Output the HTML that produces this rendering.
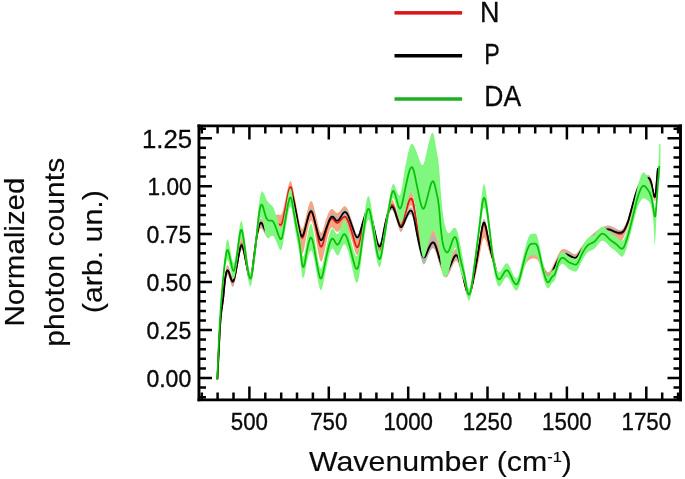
<!DOCTYPE html>
<html><head><meta charset="utf-8"><title>Spectra</title>
<style>html,body{margin:0;padding:0;background:#fff}svg{display:block}</style></head>
<body>
<svg width="685" height="479" viewBox="0 0 685 479">
<rect width="685" height="479" fill="#fff"/>
<g fill="none" stroke-linejoin="round" stroke-linecap="butt">
<path d="M217.5,375.8 L218.0,365.2 L218.5,354.5 L219.0,344.1 L219.5,334.1 L220.0,324.9 L220.5,317.4 L221.0,311.7 L221.5,307.2 L222.0,303.4 L222.5,299.8 L223.0,295.9 L223.5,291.1 L224.0,285.6 L224.5,280.1 L225.0,275.4 L225.5,271.8 L226.0,269.0 L226.5,266.8 L227.0,265.5 L227.5,264.9 L228.0,265.2 L228.5,265.9 L229.0,267.1 L229.5,268.6 L230.0,270.2 L230.5,271.8 L231.0,273.4 L231.5,274.7 L232.0,275.8 L232.5,276.3 L233.0,276.3 L233.5,275.6 L234.0,274.2 L234.5,272.4 L235.0,270.1 L235.5,267.6 L236.0,264.8 L236.5,261.9 L237.0,259.1 L237.5,256.2 L238.0,253.2 L238.5,250.1 L239.0,247.1 L239.5,244.4 L240.0,242.0 L240.5,240.0 L241.0,238.7 L241.5,238.0 L242.0,238.2 L242.5,239.2 L243.0,240.7 L243.5,242.8 L244.0,245.2 L244.5,247.8 L245.0,250.6 L245.5,253.4 L246.0,256.1 L246.5,259.0 L247.0,261.8 L247.5,264.6 L248.0,267.1 L248.5,269.3 L249.0,271.1 L249.5,272.5 L250.0,273.2 L250.5,273.3 L251.0,272.5 L251.5,270.6 L252.0,267.9 L252.5,264.5 L253.0,260.6 L253.5,256.5 L254.0,252.4 L254.5,248.5 L255.0,244.7 L255.5,240.8 L256.0,237.1 L256.5,233.6 L257.0,230.4 L257.5,227.8 L258.0,225.5 L258.5,223.5 L259.0,221.8 L259.5,220.4 L260.0,219.3 L260.5,218.7 L261.0,218.5 L261.5,218.6 L262.0,219.1 L262.5,219.7 L263.0,220.5 L263.5,221.3 L264.0,222.2 L264.5,223.0 L265.0,223.6 L265.5,224.0 L266.0,224.2 L266.5,224.2 L267.0,223.9 L267.5,223.4 L268.0,222.9 L268.5,222.2 L269.0,221.6 L269.5,220.9 L270.0,220.2 L270.5,219.6 L271.0,219.0 L271.5,218.5 L272.0,217.9 L272.5,217.4 L273.0,217.0 L273.5,216.6 L274.0,216.2 L274.5,215.9 L275.0,215.6 L275.5,215.3 L276.0,215.1 L276.5,214.9 L277.0,214.7 L277.5,214.6 L278.0,214.6 L278.5,214.6 L279.0,214.8 L279.5,214.9 L280.0,214.9 L280.5,214.9 L281.0,214.7 L281.5,214.2 L282.0,213.3 L282.5,211.8 L283.0,210.1 L283.5,208.1 L284.0,205.9 L284.5,203.6 L285.0,201.4 L285.5,199.1 L286.0,196.7 L286.5,194.3 L287.0,191.8 L287.5,189.4 L288.0,187.2 L288.5,185.2 L289.0,183.5 L289.5,182.2 L290.0,181.3 L290.5,181.0 L291.0,181.3 L291.5,182.4 L292.0,184.3 L292.5,186.6 L293.0,189.1 L293.5,191.7 L294.0,194.2 L294.5,196.7 L295.0,199.2 L295.5,201.8 L296.0,204.4 L296.5,207.0 L297.0,209.7 L297.5,212.4 L298.0,215.1 L298.5,217.6 L299.0,219.9 L299.5,222.1 L300.0,224.1 L300.5,226.0 L301.0,227.5 L301.5,228.5 L302.0,229.0 L302.5,228.7 L303.0,227.9 L303.5,226.5 L304.0,224.8 L304.5,222.8 L305.0,220.7 L305.5,218.5 L306.0,216.3 L306.5,214.3 L307.0,212.2 L307.5,210.1 L308.0,208.2 L308.5,206.3 L309.0,204.7 L309.5,203.3 L310.0,202.1 L310.5,201.4 L311.0,201.0 L311.5,201.0 L312.0,201.6 L312.5,202.5 L313.0,203.8 L313.5,205.4 L314.0,207.2 L314.5,209.2 L315.0,211.3 L315.5,213.4 L316.0,215.5 L316.5,217.6 L317.0,219.8 L317.5,222.1 L318.0,224.3 L318.5,226.4 L319.0,228.3 L319.5,230.0 L320.0,231.4 L320.5,232.3 L321.0,232.8 L321.5,232.8 L322.0,232.2 L322.5,231.2 L323.0,229.8 L323.5,228.2 L324.0,226.5 L324.5,224.6 L325.0,222.8 L325.5,221.0 L326.0,219.4 L326.5,218.0 L327.0,216.7 L327.5,215.3 L328.0,214.1 L328.5,213.0 L329.0,212.0 L329.5,211.1 L330.0,210.3 L330.5,209.7 L331.0,209.3 L331.5,209.0 L332.0,209.0 L332.5,209.1 L333.0,209.4 L333.5,209.8 L334.0,210.4 L334.5,210.9 L335.0,211.5 L335.5,212.0 L336.0,212.5 L336.5,212.8 L337.0,212.9 L337.5,212.8 L338.0,212.6 L338.5,212.3 L339.0,211.9 L339.5,211.4 L340.0,210.8 L340.5,210.2 L341.0,209.5 L341.5,208.9 L342.0,208.2 L342.5,207.7 L343.0,207.1 L343.5,206.7 L344.0,206.4 L344.5,206.2 L345.0,206.2 L345.5,206.4 L346.0,206.8 L346.5,207.4 L347.0,208.1 L347.5,208.9 L348.0,209.9 L348.5,211.0 L349.0,212.3 L349.5,213.6 L350.0,214.9 L350.5,216.4 L351.0,217.9 L351.5,219.4 L352.0,221.0 L352.5,222.6 L353.0,224.3 L353.5,226.1 L354.0,227.9 L354.5,229.6 L355.0,231.2 L355.5,232.6 L356.0,233.8 L356.5,234.7 L357.0,235.2 L357.5,235.3 L358.0,235.0 L358.5,234.2 L359.0,233.0 L359.5,231.5 L360.0,229.8 L360.5,227.9 L361.0,225.9 L361.5,223.8 L362.0,221.7 L362.5,219.8 L363.0,218.0 L363.5,216.2 L364.0,214.5 L364.5,212.8 L365.0,211.2 L365.5,209.7 L366.0,208.3 L366.5,207.1 L367.0,206.1 L367.5,205.4 L368.0,205.0 L368.5,205.0 L369.0,205.4 L369.5,206.3 L370.0,207.5 L370.5,209.1 L371.0,210.9 L371.5,213.0 L372.0,215.3 L372.5,217.7 L373.0,220.1 L373.5,222.6 L374.0,225.0 L374.5,227.5 L375.0,230.1 L375.5,232.7 L376.0,235.3 L376.5,237.7 L377.0,240.0 L377.5,242.1 L378.0,243.8 L378.5,245.1 L379.0,246.0 L379.5,246.4 L380.0,246.1 L380.5,245.1 L381.0,243.5 L381.5,241.3 L382.0,238.7 L382.5,235.8 L383.0,232.8 L383.5,229.6 L384.0,226.5 L384.5,223.5 L385.0,220.9 L385.5,218.4 L386.0,216.0 L386.5,213.8 L387.0,211.6 L387.5,209.6 L388.0,207.7 L388.5,206.0 L389.0,204.5 L389.5,203.1 L390.0,202.0 L390.5,201.1 L391.0,200.4 L391.5,200.0 L392.0,199.9 L392.5,200.0 L393.0,200.5 L393.5,201.4 L394.0,202.5 L394.5,203.8 L395.0,205.3 L395.5,206.9 L396.0,208.5 L396.5,210.1 L397.0,211.7 L397.5,213.2 L398.0,214.8 L398.5,216.3 L399.0,217.6 L399.5,218.8 L400.0,219.6 L400.5,220.1 L401.0,220.1 L401.5,219.6 L402.0,218.7 L402.5,217.5 L403.0,216.0 L403.5,214.2 L404.0,212.3 L404.5,210.3 L405.0,208.3 L405.5,206.3 L406.0,204.4 L406.5,202.6 L407.0,200.7 L407.5,199.0 L408.0,197.3 L408.5,195.8 L409.0,194.4 L409.5,193.3 L410.0,192.4 L410.5,191.8 L411.0,191.6 L411.5,191.7 L412.0,192.4 L412.5,193.6 L413.0,195.4 L413.5,197.6 L414.0,200.1 L414.5,203.0 L415.0,206.1 L415.5,209.3 L416.0,212.6 L416.5,215.9 L417.0,219.2 L417.5,222.3 L418.0,225.3 L418.5,228.2 L419.0,231.2 L419.5,234.1 L420.0,236.9 L420.5,239.5 L421.0,242.0 L421.5,244.2 L422.0,246.1 L422.5,247.7 L423.0,248.9 L423.5,249.7 L424.0,250.0 L424.5,249.8 L425.0,249.2 L425.5,248.3 L426.0,247.1 L426.5,245.8 L427.0,244.3 L427.5,242.7 L428.0,241.2 L428.5,239.7 L429.0,238.2 L429.5,236.7 L430.0,235.3 L430.5,234.0 L431.0,232.9 L431.5,231.9 L432.0,231.1 L432.5,230.6 L433.0,230.3 L433.5,230.4 L434.0,230.7 L434.5,231.4 L435.0,232.3 L435.5,233.5 L436.0,234.9 L436.5,236.5 L437.0,238.1 L437.5,239.9 L438.0,241.8 L438.5,243.6 L439.0,245.5 L439.5,247.3 L440.0,249.0 L440.5,250.6 L441.0,252.1 L441.5,253.6 L442.0,255.1 L442.5,256.5 L443.0,257.8 L443.5,259.0 L444.0,260.0 L444.5,260.9 L445.0,261.6 L445.5,262.1 L446.0,262.4 L446.5,262.4 L447.0,262.2 L447.5,261.9 L448.0,261.3 L448.5,260.6 L449.0,259.8 L449.5,258.9 L450.0,258.0 L450.5,257.1 L451.0,256.2 L451.5,255.2 L452.0,254.3 L452.5,253.3 L453.0,252.4 L453.5,251.5 L454.0,250.7 L454.5,250.0 L455.0,249.5 L455.5,249.1 L456.0,249.0 L456.5,249.1 L457.0,249.5 L457.5,250.3 L458.0,251.4 L458.5,252.8 L459.0,254.4 L459.5,256.2 L460.0,258.1 L460.5,260.2 L461.0,262.3 L461.5,264.5 L462.0,266.7 L462.5,268.9 L463.0,271.1 L463.5,273.3 L464.0,275.6 L464.5,277.9 L465.0,280.1 L465.5,282.2 L466.0,284.1 L466.5,285.9 L467.0,287.4 L467.5,288.6 L468.0,289.5 L468.5,289.9 L469.0,290.0 L469.5,289.5 L470.0,288.6 L470.5,287.3 L471.0,285.6 L471.5,283.7 L472.0,281.5 L472.5,279.1 L473.0,276.6 L473.5,274.0 L474.0,271.3 L474.5,268.7 L475.0,266.1 L475.5,263.4 L476.0,260.7 L476.5,257.8 L477.0,254.9 L477.5,252.0 L478.0,249.0 L478.5,246.0 L479.0,243.0 L479.5,240.0 L480.0,236.9 L480.5,233.6 L481.0,230.5 L481.5,227.4 L482.0,224.7 L482.5,222.4 L483.0,220.6 L483.5,219.4 L484.0,219.0 L484.5,219.3 L485.0,220.3 L485.5,221.9 L486.0,223.8 L486.5,226.1 L487.0,228.5 L487.5,231.1 L488.0,233.6 L488.5,236.0 L489.0,238.2 L489.5,240.3 L490.0,242.2 L490.5,244.0 L491.0,245.7 L491.5,247.3 L492.0,248.9 L492.5,250.5 L493.0,252.2 L493.5,254.0 L494.0,256.0 L494.5,258.1 L495.0,260.4 L495.5,262.8 L496.0,265.1 L496.5,267.4 L497.0,269.5 L497.5,271.3 L498.0,272.8 L498.5,273.9 L499.0,274.5 L499.5,274.8 L500.0,274.8 L500.5,274.5 L501.0,274.1 L501.5,273.5 L502.0,272.7 L502.5,271.9 L503.0,271.1 L503.5,270.3 L504.0,269.4 L504.5,268.7 L505.0,268.0 L505.5,267.4 L506.0,267.0 L506.5,266.7 L507.0,266.7 L507.5,266.9 L508.0,267.3 L508.5,267.8 L509.0,268.5 L509.5,269.4 L510.0,270.3 L510.5,271.3 L511.0,272.3 L511.5,273.3 L512.0,274.4 L512.5,275.4 L513.0,276.3 L513.5,277.2 L514.0,278.0 L514.5,278.6 L515.0,279.1 L515.5,279.4 L516.0,279.5 L516.5,279.4 L517.0,279.0 L517.5,278.3 L518.0,277.3 L518.5,276.2 L519.0,274.9 L519.5,273.4 L520.0,271.8 L520.5,270.1 L521.0,268.4 L521.5,266.7 L522.0,265.0 L522.5,263.3 L523.0,261.7 L523.5,260.3 L524.0,259.0 L524.5,257.8 L525.0,256.7 L525.5,255.7 L526.0,254.7 L526.5,253.7 L527.0,252.9 L527.5,252.1 L528.0,251.3 L528.5,250.6 L529.0,250.0 L529.5,249.5 L530.0,249.0 L530.5,248.6 L531.0,248.2 L531.5,248.0 L532.0,247.7 L532.5,247.6 L533.0,247.5 L533.5,247.5 L534.0,247.5 L534.5,247.6 L535.0,247.8 L535.5,248.1 L536.0,248.4 L536.5,248.8 L537.0,249.4 L537.5,250.0 L538.0,250.8 L538.5,251.9 L539.0,253.1 L539.5,254.5 L540.0,255.9 L540.5,257.4 L541.0,258.8 L541.5,260.2 L542.0,261.5 L542.5,262.8 L543.0,264.1 L543.5,265.3 L544.0,266.5 L544.5,267.6 L545.0,268.6 L545.5,269.5 L546.0,270.3 L546.5,271.0 L547.0,271.5 L547.5,271.9 L548.0,272.0 L548.5,272.0 L549.0,271.8 L549.5,271.4 L550.0,270.9 L550.5,270.2 L551.0,269.4 L551.5,268.6 L552.0,267.6 L552.5,266.6 L553.0,265.5 L553.5,264.4 L554.0,263.3 L554.5,262.2 L555.0,261.1 L555.5,260.0 L556.0,259.0 L556.5,258.0 L557.0,257.0 L557.5,256.0 L558.0,255.0 L558.5,254.0 L559.0,253.1 L559.5,252.2 L560.0,251.5 L560.5,250.8 L561.0,250.2 L561.5,249.8 L562.0,249.5 L562.5,249.3 L563.0,249.2 L563.5,249.1 L564.0,249.1 L564.5,249.1 L565.0,249.2 L565.5,249.3 L566.0,249.5 L566.5,249.7 L567.0,249.9 L567.5,250.1 L568.0,250.4 L568.5,250.7 L569.0,251.0 L569.5,251.3 L570.0,251.6 L570.5,251.9 L571.0,252.3 L571.5,252.6 L572.0,252.9 L572.5,253.2 L573.0,253.5 L573.5,253.7 L574.0,253.9 L574.5,254.0 L575.0,254.0 L575.5,254.0 L576.0,253.9 L576.5,253.6 L577.0,253.2 L577.5,252.6 L578.0,251.9 L578.5,251.2 L579.0,250.4 L579.5,249.6 L580.0,248.8 L580.5,248.0 L581.0,247.3 L581.5,246.6 L582.0,245.9 L582.5,245.2 L583.0,244.5 L583.5,243.9 L584.0,243.2 L584.5,242.6 L585.0,242.0 L585.5,241.4 L586.0,240.8 L586.5,240.2 L587.0,239.6 L587.5,239.1 L588.0,238.5 L588.5,238.0 L589.0,237.5 L589.5,237.0 L590.0,236.5 L590.5,236.0 L591.0,235.6 L591.5,235.1 L592.0,234.7 L592.5,234.2 L593.0,233.8 L593.5,233.3 L594.0,232.9 L594.5,232.5 L595.0,232.1 L595.5,231.7 L596.0,231.3 L596.5,230.9 L597.0,230.6 L597.5,230.2 L598.0,229.9 L598.5,229.5 L599.0,229.2 L599.5,228.9 L600.0,228.6 L600.5,228.3 L601.0,228.0 L601.5,227.8 L602.0,227.5 L602.5,227.3 L603.0,227.0 L603.5,226.8 L604.0,226.6 L604.5,226.3 L605.0,226.2 L605.5,226.0 L606.0,225.8 L606.5,225.7 L607.0,225.6 L607.5,225.5 L608.0,225.5 L608.5,225.5 L609.0,225.5 L609.5,225.6 L610.0,225.8 L610.5,225.9 L611.0,226.1 L611.5,226.3 L612.0,226.5 L612.5,226.8 L613.0,227.1 L613.5,227.3 L614.0,227.6 L614.5,227.8 L615.0,228.1 L615.5,228.3 L616.0,228.6 L616.5,228.8 L617.0,229.1 L617.5,229.3 L618.0,229.5 L618.5,229.7 L619.0,229.8 L619.5,229.9 L620.0,229.9 L620.5,229.9 L621.0,229.8 L621.5,229.6 L622.0,229.3 L622.5,228.9 L623.0,228.3 L623.5,227.7 L624.0,226.9 L624.5,226.1 L625.0,225.2 L625.5,224.2 L626.0,223.1 L626.5,222.0 L627.0,220.8 L627.5,219.5 L628.0,218.2 L628.5,216.7 L629.0,215.1 L629.5,213.4 L630.0,211.6 L630.5,209.8 L631.0,208.0 L631.5,206.2 L632.0,204.4 L632.5,202.6 L633.0,200.7 L633.5,198.8 L634.0,197.0 L634.5,195.2 L635.0,193.4 L635.5,191.7 L636.0,190.1 L636.5,188.5 L637.0,187.1 L637.5,185.8 L638.0,184.6 L638.5,183.5 L639.0,182.5 L639.5,181.6 L640.0,180.8 L640.5,180.0 L641.0,179.3 L641.5,178.7 L642.0,178.1 L642.5,177.7 L643.0,177.2 L643.5,176.9 L644.0,176.6 L644.5,176.3 L645.0,176.1 L645.5,175.9 L646.0,175.7 L646.5,175.6 L647.0,175.5 L647.5,175.4 L648.0,175.3 L648.5,175.3 L649.0,175.4 L649.5,175.8 L650.0,176.4 L650.5,177.3 L651.0,178.6 L651.5,180.4 L652.0,182.6 L652.5,185.2 L653.0,187.9 L653.5,190.3 L654.0,192.1 L654.5,193.2 L655.0,193.2 L655.5,191.7 L656.0,187.5 L656.5,181.4 L657.0,175.2 L657.5,169.5 L658.0,164.3 L658.0,171.2 L657.5,176.5 L657.0,182.4 L656.5,188.7 L656.0,195.0 L655.5,199.4 L655.0,201.0 L654.5,201.2 L654.0,200.2 L653.5,198.5 L653.0,196.3 L652.5,193.7 L652.0,191.3 L651.5,189.1 L651.0,187.5 L650.5,186.3 L650.0,185.5 L649.5,184.9 L649.0,184.7 L648.5,184.7 L648.0,184.8 L647.5,184.9 L647.0,185.0 L646.5,185.2 L646.0,185.4 L645.5,185.6 L645.0,185.9 L644.5,186.1 L644.0,186.4 L643.5,186.8 L643.0,187.2 L642.5,187.6 L642.0,188.1 L641.5,188.7 L641.0,189.3 L640.5,190.0 L640.0,190.8 L639.5,191.6 L639.0,192.5 L638.5,193.4 L638.0,194.4 L637.5,195.5 L637.0,196.8 L636.5,198.1 L636.0,199.5 L635.5,201.1 L635.0,202.7 L634.5,204.3 L634.0,206.0 L633.5,207.7 L633.0,209.5 L632.5,211.2 L632.0,213.0 L631.5,214.7 L631.0,216.4 L630.5,218.1 L630.0,219.8 L629.5,221.5 L629.0,223.2 L628.5,224.7 L628.0,226.2 L627.5,227.6 L627.0,229.0 L626.5,230.3 L626.0,231.7 L625.5,233.0 L625.0,234.3 L624.5,235.5 L624.0,236.7 L623.5,237.8 L623.0,238.7 L622.5,239.5 L622.0,240.2 L621.5,240.7 L621.0,241.1 L620.5,241.3 L620.0,241.3 L619.5,241.3 L619.0,241.2 L618.5,240.9 L618.0,240.6 L617.5,240.3 L617.0,239.9 L616.5,239.4 L616.0,239.0 L615.5,238.5 L615.0,238.1 L614.5,237.6 L614.0,237.2 L613.5,236.7 L613.0,236.3 L612.5,235.9 L612.0,235.6 L611.5,235.2 L611.0,235.0 L610.5,234.7 L610.0,234.5 L609.5,234.3 L609.0,234.1 L608.5,234.0 L608.0,233.9 L607.5,233.9 L607.0,233.9 L606.5,234.0 L606.0,234.0 L605.5,234.1 L605.0,234.3 L604.5,234.4 L604.0,234.6 L603.5,234.8 L603.0,235.0 L602.5,235.3 L602.0,235.5 L601.5,235.8 L601.0,236.0 L600.5,236.3 L600.0,236.6 L599.5,236.9 L599.0,237.2 L598.5,237.5 L598.0,237.9 L597.5,238.2 L597.0,238.6 L596.5,238.9 L596.0,239.3 L595.5,239.7 L595.0,240.1 L594.5,240.5 L594.0,240.9 L593.5,241.3 L593.0,241.8 L592.5,242.2 L592.0,242.7 L591.5,243.1 L591.0,243.6 L590.5,244.0 L590.0,244.5 L589.5,245.0 L589.0,245.5 L588.5,246.0 L588.0,246.5 L587.5,247.1 L587.0,247.6 L586.5,248.2 L586.0,248.8 L585.5,249.4 L585.0,250.0 L584.5,250.6 L584.0,251.2 L583.5,251.9 L583.0,252.5 L582.5,253.2 L582.0,253.9 L581.5,254.6 L581.0,255.3 L580.5,256.0 L580.0,256.8 L579.5,257.6 L579.0,258.4 L578.5,259.2 L578.0,260.0 L577.5,260.7 L577.0,261.3 L576.5,261.7 L576.0,262.0 L575.5,262.2 L575.0,262.2 L574.5,262.2 L574.0,262.1 L573.5,262.0 L573.0,261.8 L572.5,261.6 L572.0,261.3 L571.5,261.1 L571.0,260.8 L570.5,260.5 L570.0,260.2 L569.5,259.9 L569.0,259.7 L568.5,259.4 L568.0,259.2 L567.5,258.9 L567.0,258.7 L566.5,258.5 L566.0,258.4 L565.5,258.2 L565.0,258.1 L564.5,258.1 L564.0,258.1 L563.5,258.1 L563.0,258.2 L562.5,258.3 L562.0,258.5 L561.5,258.8 L561.0,259.2 L560.5,259.8 L560.0,260.5 L559.5,261.2 L559.0,262.1 L558.5,263.0 L558.0,264.0 L557.5,265.0 L557.0,266.0 L556.5,267.0 L556.0,268.0 L555.5,269.0 L555.0,270.1 L554.5,271.2 L554.0,272.3 L553.5,273.4 L553.0,274.5 L552.5,275.6 L552.0,276.6 L551.5,277.6 L551.0,278.4 L550.5,279.2 L550.0,279.9 L549.5,280.4 L549.0,280.8 L548.5,281.0 L548.0,281.0 L547.5,280.8 L547.0,280.5 L546.5,279.9 L546.0,279.2 L545.5,278.4 L545.0,277.5 L544.5,276.4 L544.0,275.3 L543.5,274.1 L543.0,272.9 L542.5,271.6 L542.0,270.4 L541.5,269.1 L541.0,267.8 L540.5,266.5 L540.0,265.1 L539.5,263.8 L539.0,262.6 L538.5,261.6 L538.0,260.7 L537.5,260.0 L537.0,259.5 L536.5,259.2 L536.0,258.9 L535.5,258.7 L535.0,258.5 L534.5,258.5 L534.0,258.4 L533.5,258.4 L533.0,258.5 L532.5,258.5 L532.0,258.6 L531.5,258.8 L531.0,258.9 L530.5,259.1 L530.0,259.4 L529.5,259.7 L529.0,260.1 L528.5,260.5 L528.0,261.1 L527.5,261.6 L527.0,262.3 L526.5,263.0 L526.0,263.8 L525.5,264.7 L525.0,265.7 L524.5,266.8 L524.0,267.9 L523.5,269.2 L523.0,270.6 L522.5,272.1 L522.0,273.7 L521.5,275.4 L521.0,277.1 L520.5,278.8 L520.0,280.4 L519.5,282.0 L519.0,283.4 L518.5,284.7 L518.0,285.9 L517.5,286.8 L517.0,287.5 L516.5,287.9 L516.0,288.0 L515.5,287.8 L515.0,287.5 L514.5,287.0 L514.0,286.3 L513.5,285.5 L513.0,284.6 L512.5,283.6 L512.0,282.6 L511.5,281.5 L511.0,280.5 L510.5,279.4 L510.0,278.4 L509.5,277.5 L509.0,276.7 L508.5,276.0 L508.0,275.4 L507.5,275.0 L507.0,274.8 L506.5,274.8 L506.0,275.0 L505.5,275.5 L505.0,276.0 L504.5,276.7 L504.0,277.5 L503.5,278.3 L503.0,279.1 L502.5,280.0 L502.0,280.7 L501.5,281.5 L501.0,282.1 L500.5,282.5 L500.0,282.8 L499.5,282.9 L499.0,282.7 L498.5,282.3 L498.0,281.4 L497.5,280.2 L497.0,278.6 L496.5,276.9 L496.0,274.9 L495.5,272.9 L495.0,270.8 L494.5,268.7 L494.0,266.8 L493.5,264.9 L493.0,263.2 L492.5,261.6 L492.0,260.0 L491.5,258.6 L491.0,257.2 L490.5,255.8 L490.0,254.4 L489.5,252.9 L489.0,251.3 L488.5,249.7 L488.0,248.0 L487.5,246.2 L487.0,244.4 L486.5,242.7 L486.0,241.1 L485.5,239.8 L485.0,238.7 L484.5,238.0 L484.0,237.8 L483.5,238.3 L483.0,239.3 L482.5,241.0 L482.0,243.1 L481.5,245.6 L481.0,248.3 L480.5,251.1 L480.0,253.9 L479.5,256.6 L479.0,259.2 L478.5,261.7 L478.0,264.1 L477.5,266.6 L477.0,269.0 L476.5,271.3 L476.0,273.6 L475.5,275.8 L475.0,278.0 L474.5,280.1 L474.0,282.2 L473.5,284.4 L473.0,286.6 L472.5,288.7 L472.0,290.7 L471.5,292.5 L471.0,294.2 L470.5,295.7 L470.0,296.8 L469.5,297.6 L469.0,298.0 L468.5,298.0 L468.0,297.5 L467.5,296.7 L467.0,295.6 L466.5,294.2 L466.0,292.6 L465.5,290.8 L465.0,288.8 L464.5,286.8 L464.0,284.7 L463.5,282.6 L463.0,280.5 L462.5,278.6 L462.0,276.6 L461.5,274.6 L461.0,272.7 L460.5,270.7 L460.0,268.9 L459.5,267.1 L459.0,265.5 L458.5,264.1 L458.0,262.9 L457.5,261.9 L457.0,261.3 L456.5,261.0 L456.0,261.0 L455.5,261.2 L455.0,261.7 L454.5,262.3 L454.0,263.1 L453.5,264.1 L453.0,265.1 L452.5,266.2 L452.0,267.3 L451.5,268.4 L451.0,269.5 L450.5,270.6 L450.0,271.7 L449.5,272.8 L449.0,273.8 L448.5,274.8 L448.0,275.7 L447.5,276.4 L447.0,277.0 L446.5,277.4 L446.0,277.5 L445.5,277.4 L445.0,277.1 L444.5,276.5 L444.0,275.8 L443.5,274.9 L443.0,273.9 L442.5,272.8 L442.0,271.6 L441.5,270.2 L441.0,268.9 L440.5,267.5 L440.0,266.0 L439.5,264.4 L439.0,262.8 L438.5,261.0 L438.0,259.3 L437.5,257.5 L437.0,255.8 L436.5,254.2 L436.0,252.7 L435.5,251.4 L435.0,250.3 L434.5,249.3 L434.0,248.7 L433.5,248.3 L433.0,248.2 L432.5,248.3 L432.0,248.7 L431.5,249.2 L431.0,249.8 L430.5,250.6 L430.0,251.5 L429.5,252.4 L429.0,253.4 L428.5,254.5 L428.0,255.5 L427.5,256.6 L427.0,257.7 L426.5,258.8 L426.0,259.9 L425.5,260.8 L425.0,261.5 L424.5,261.9 L424.0,262.0 L423.5,261.7 L423.0,261.0 L422.5,259.8 L422.0,258.3 L421.5,256.4 L421.0,254.3 L420.5,251.9 L420.0,249.4 L419.5,246.7 L419.0,243.9 L418.5,241.0 L418.0,238.2 L417.5,235.4 L417.0,232.4 L416.5,229.2 L416.0,226.0 L415.5,222.8 L415.0,219.7 L414.5,216.7 L414.0,213.9 L413.5,211.4 L413.0,209.3 L412.5,207.6 L412.0,206.4 L411.5,205.7 L411.0,205.5 L410.5,205.8 L410.0,206.3 L409.5,207.1 L409.0,208.2 L408.5,209.5 L408.0,211.0 L407.5,212.6 L407.0,214.3 L406.5,216.0 L406.0,217.7 L405.5,219.5 L405.0,221.4 L404.5,223.3 L404.0,225.1 L403.5,226.9 L403.0,228.5 L402.5,229.9 L402.0,231.0 L401.5,231.8 L401.0,232.1 L400.5,231.9 L400.0,231.3 L399.5,230.3 L399.0,229.1 L398.5,227.6 L398.0,225.9 L397.5,224.2 L397.0,222.6 L396.5,220.9 L396.0,219.2 L395.5,217.4 L395.0,215.8 L394.5,214.2 L394.0,212.8 L393.5,211.6 L393.0,210.7 L392.5,210.1 L392.0,209.9 L391.5,210.0 L391.0,210.4 L390.5,211.0 L390.0,211.9 L389.5,213.0 L389.0,214.3 L388.5,215.9 L388.0,217.6 L387.5,219.4 L387.0,221.5 L386.5,223.6 L386.0,225.9 L385.5,228.3 L385.0,230.8 L384.5,233.5 L384.0,236.4 L383.5,239.5 L383.0,242.7 L382.5,245.8 L382.0,248.7 L381.5,251.3 L381.0,253.5 L380.5,255.1 L380.0,256.1 L379.5,256.4 L379.0,256.0 L378.5,255.1 L378.0,253.8 L377.5,252.0 L377.0,250.0 L376.5,247.6 L376.0,245.1 L375.5,242.5 L375.0,239.9 L374.5,237.3 L374.0,234.8 L373.5,232.4 L373.0,229.9 L372.5,227.4 L372.0,225.1 L371.5,222.8 L371.0,220.7 L370.5,218.9 L370.0,217.4 L369.5,216.1 L369.0,215.3 L368.5,215.0 L368.0,215.1 L367.5,215.6 L367.0,216.5 L366.5,217.8 L366.0,219.4 L365.5,221.2 L365.0,223.2 L364.5,225.3 L364.0,227.6 L363.5,230.0 L363.0,232.3 L362.5,234.8 L362.0,237.4 L361.5,240.1 L361.0,242.7 L360.5,245.3 L360.0,247.8 L359.5,250.0 L359.0,251.9 L358.5,253.5 L358.0,254.6 L357.5,255.1 L357.0,255.1 L356.5,254.7 L356.0,253.9 L355.5,252.8 L355.0,251.4 L354.5,249.8 L354.0,248.1 L353.5,246.3 L353.0,244.5 L352.5,242.7 L352.0,241.1 L351.5,239.5 L351.0,238.0 L350.5,236.4 L350.0,234.9 L349.5,233.5 L349.0,232.2 L348.5,230.9 L348.0,229.7 L347.5,228.7 L347.0,227.8 L346.5,227.0 L346.0,226.4 L345.5,226.0 L345.0,225.7 L344.5,225.7 L344.0,225.8 L343.5,226.1 L343.0,226.5 L342.5,227.0 L342.0,227.5 L341.5,228.1 L341.0,228.7 L340.5,229.3 L340.0,229.9 L339.5,230.5 L339.0,231.0 L338.5,231.4 L338.0,231.6 L337.5,231.8 L337.0,231.8 L336.5,231.6 L336.0,231.3 L335.5,230.8 L335.0,230.2 L334.5,229.6 L334.0,229.0 L333.5,228.4 L333.0,228.0 L332.5,227.6 L332.0,227.5 L331.5,227.7 L331.0,228.1 L330.5,228.9 L330.0,229.8 L329.5,231.1 L329.0,232.5 L328.5,234.1 L328.0,235.8 L327.5,237.7 L327.0,239.7 L326.5,241.8 L326.0,243.9 L325.5,246.2 L325.0,248.6 L324.5,251.1 L324.0,253.5 L323.5,255.8 L323.0,257.8 L322.5,259.6 L322.0,260.8 L321.5,261.6 L321.0,261.7 L320.5,261.1 L320.0,260.0 L319.5,258.4 L319.0,256.3 L318.5,253.9 L318.0,251.3 L317.5,248.5 L317.0,245.6 L316.5,242.8 L316.0,240.0 L315.5,237.3 L315.0,234.5 L314.5,231.8 L314.0,229.2 L313.5,226.8 L313.0,224.7 L312.5,222.9 L312.0,221.6 L311.5,220.8 L311.0,220.6 L310.5,220.9 L310.0,221.8 L309.5,223.1 L309.0,224.7 L308.5,226.7 L308.0,229.0 L307.5,231.4 L307.0,233.9 L306.5,236.5 L306.0,239.1 L305.5,241.7 L305.0,244.3 L304.5,246.9 L304.0,249.2 L303.5,251.2 L303.0,252.7 L302.5,253.7 L302.0,253.9 L301.5,253.2 L301.0,251.9 L300.5,250.0 L300.0,247.6 L299.5,245.0 L299.0,242.1 L298.5,239.1 L298.0,235.8 L297.5,232.3 L297.0,228.8 L296.5,225.2 L296.0,221.8 L295.5,218.4 L295.0,215.0 L294.5,211.7 L294.0,208.5 L293.5,205.4 L293.0,202.3 L292.5,199.3 L292.0,196.7 L291.5,194.6 L291.0,193.4 L290.5,193.1 L290.0,193.5 L289.5,194.6 L289.0,196.1 L288.5,198.1 L288.0,200.5 L287.5,203.1 L287.0,205.9 L286.5,208.8 L286.0,211.7 L285.5,214.6 L285.0,217.3 L284.5,219.9 L284.0,222.6 L283.5,225.1 L283.0,227.4 L282.5,229.4 L282.0,231.0 L281.5,232.1 L281.0,232.6 L280.5,232.8 L280.0,232.8 L279.5,232.6 L279.0,232.4 L278.5,232.1 L278.0,231.8 L277.5,231.6 L277.0,231.4 L276.5,231.3 L276.0,231.3 L275.5,231.2 L275.0,231.2 L274.5,231.2 L274.0,231.3 L273.5,231.3 L273.0,231.5 L272.5,231.7 L272.0,231.9 L271.5,232.2 L271.0,232.6 L270.5,232.9 L270.0,233.3 L269.5,233.7 L269.0,234.1 L268.5,234.6 L268.0,235.0 L267.5,235.3 L267.0,235.5 L266.5,235.5 L266.0,235.4 L265.5,235.0 L265.0,234.3 L264.5,233.5 L264.0,232.6 L263.5,231.6 L263.0,230.7 L262.5,229.8 L262.0,229.1 L261.5,228.6 L261.0,228.4 L260.5,228.6 L260.0,229.2 L259.5,230.2 L259.0,231.6 L258.5,233.3 L258.0,235.3 L257.5,237.5 L257.0,240.2 L256.5,243.3 L256.0,246.8 L255.5,250.5 L255.0,254.4 L254.5,258.2 L254.0,262.2 L253.5,266.3 L253.0,270.4 L252.5,274.3 L252.0,277.7 L251.5,280.5 L251.0,282.4 L250.5,283.2 L250.0,283.2 L249.5,282.5 L249.0,281.3 L248.5,279.5 L248.0,277.3 L247.5,274.9 L247.0,272.2 L246.5,269.5 L246.0,266.7 L245.5,264.0 L245.0,261.3 L244.5,258.6 L244.0,256.0 L243.5,253.7 L243.0,251.6 L242.5,250.1 L242.0,249.2 L241.5,249.0 L241.0,249.7 L240.5,251.0 L240.0,252.9 L239.5,255.3 L239.0,258.1 L238.5,261.0 L238.0,264.1 L237.5,267.1 L237.0,270.0 L236.5,272.8 L236.0,275.6 L235.5,278.4 L235.0,280.9 L234.5,283.1 L234.0,284.9 L233.5,286.2 L233.0,286.9 L232.5,286.9 L232.0,286.3 L231.5,285.2 L231.0,283.8 L230.5,282.2 L230.0,280.5 L229.5,278.9 L229.0,277.4 L228.5,276.1 L228.0,275.3 L227.5,275.0 L227.0,275.4 L226.5,276.7 L226.0,278.7 L225.5,281.4 L225.0,284.7 L224.5,289.1 L224.0,294.2 L223.5,299.4 L223.0,303.7 L222.5,307.2 L222.0,310.3 L221.5,313.7 L221.0,317.6 L220.5,322.8 L220.0,329.7 L219.5,338.3 L219.0,347.9 L218.5,357.7 L218.0,367.9 L217.5,378.1Z" fill="#f4a582" stroke="none"/>
<path d="M217.5,375.8 L218.0,365.3 L218.5,354.7 L219.0,344.4 L219.5,334.3 L220.0,325.2 L220.5,317.7 L221.0,312.1 L221.5,307.7 L222.0,303.9 L222.5,300.4 L223.0,296.5 L223.5,291.8 L224.0,286.2 L224.5,280.8 L225.0,276.2 L225.5,272.8 L226.0,270.1 L226.5,268.1 L227.0,266.9 L227.5,266.5 L228.0,266.8 L228.5,267.6 L229.0,268.7 L229.5,270.1 L230.0,271.7 L230.5,273.2 L231.0,274.7 L231.5,276.0 L232.0,276.9 L232.5,277.5 L233.0,277.4 L233.5,276.7 L234.0,275.5 L234.5,273.7 L235.0,271.5 L235.5,269.0 L236.0,266.4 L236.5,263.7 L237.0,261.1 L237.5,258.4 L238.0,255.6 L238.5,252.8 L239.0,250.1 L239.5,247.6 L240.0,245.4 L240.5,243.6 L241.0,242.4 L241.5,241.8 L242.0,241.9 L242.5,242.7 L243.0,244.0 L243.5,245.8 L244.0,247.9 L244.5,250.3 L245.0,252.8 L245.5,255.3 L246.0,257.8 L246.5,260.6 L247.0,263.3 L247.5,266.0 L248.0,268.4 L248.5,270.6 L249.0,272.5 L249.5,273.8 L250.0,274.5 L250.5,274.6 L251.0,273.8 L251.5,271.9 L252.0,269.1 L252.5,265.7 L253.0,261.8 L253.5,257.6 L254.0,253.4 L254.5,249.4 L255.0,245.6 L255.5,241.7 L256.0,237.9 L256.5,234.3 L257.0,231.1 L257.5,228.5 L258.0,226.2 L258.5,224.2 L259.0,222.5 L259.5,221.1 L260.0,220.1 L260.5,219.5 L261.0,219.3 L261.5,219.6 L262.0,220.2 L262.5,221.1 L263.0,222.2 L263.5,223.3 L264.0,224.5 L264.5,225.7 L265.0,226.7 L265.5,227.5 L266.0,228.0 L266.5,228.3 L267.0,228.4 L267.5,228.4 L268.0,228.3 L268.5,228.1 L269.0,227.9 L269.5,227.7 L270.0,227.6 L270.5,227.5 L271.0,227.5 L271.5,227.6 L272.0,227.7 L272.5,227.8 L273.0,228.1 L273.5,228.3 L274.0,228.6 L274.5,228.9 L275.0,229.4 L275.5,229.9 L276.0,230.4 L276.5,231.0 L277.0,231.6 L277.5,232.1 L278.0,232.6 L278.5,233.1 L279.0,233.5 L279.5,233.8 L280.0,234.0 L280.5,233.9 L281.0,233.6 L281.5,232.8 L282.0,231.3 L282.5,229.4 L283.0,227.0 L283.5,224.3 L284.0,221.5 L284.5,218.5 L285.0,215.7 L285.5,212.7 L286.0,209.7 L286.5,206.6 L287.0,203.5 L287.5,200.5 L288.0,197.7 L288.5,195.2 L289.0,193.0 L289.5,191.2 L290.0,190.0 L290.5,189.3 L291.0,189.2 L291.5,190.0 L292.0,191.3 L292.5,193.1 L293.0,195.1 L293.5,197.2 L294.0,199.3 L294.5,201.5 L295.0,203.9 L295.5,206.3 L296.0,208.8 L296.5,211.4 L297.0,214.2 L297.5,217.0 L298.0,219.8 L298.5,222.4 L299.0,224.7 L299.5,226.8 L300.0,228.7 L300.5,230.3 L301.0,231.7 L301.5,232.6 L302.0,232.9 L302.5,232.7 L303.0,232.0 L303.5,230.8 L304.0,229.3 L304.5,227.5 L305.0,225.6 L305.5,223.7 L306.0,221.8 L306.5,219.9 L307.0,218.0 L307.5,216.1 L308.0,214.3 L308.5,212.6 L309.0,211.1 L309.5,209.8 L310.0,208.8 L310.5,208.1 L311.0,207.9 L311.5,208.1 L312.0,208.7 L312.5,209.8 L313.0,211.2 L313.5,212.9 L314.0,214.8 L314.5,216.8 L315.0,218.8 L315.5,220.9 L316.0,222.8 L316.5,224.7 L317.0,226.7 L317.5,228.6 L318.0,230.4 L318.5,232.1 L319.0,233.7 L319.5,235.0 L320.0,236.0 L320.5,236.7 L321.0,237.0 L321.5,236.9 L322.0,236.4 L322.5,235.7 L323.0,234.6 L323.5,233.3 L324.0,231.9 L324.5,230.4 L325.0,228.8 L325.5,227.3 L326.0,225.9 L326.5,224.4 L327.0,223.0 L327.5,221.6 L328.0,220.2 L328.5,218.9 L329.0,217.7 L329.5,216.6 L330.0,215.6 L330.5,214.8 L331.0,214.2 L331.5,213.7 L332.0,213.5 L332.5,213.5 L333.0,213.8 L333.5,214.2 L334.0,214.7 L334.5,215.3 L335.0,215.9 L335.5,216.5 L336.0,217.1 L336.5,217.4 L337.0,217.6 L337.5,217.5 L338.0,217.3 L338.5,216.9 L339.0,216.4 L339.5,215.7 L340.0,215.0 L340.5,214.2 L341.0,213.4 L341.5,212.6 L342.0,211.8 L342.5,211.0 L343.0,210.4 L343.5,209.8 L344.0,209.3 L344.5,209.0 L345.0,208.9 L345.5,209.0 L346.0,209.3 L346.5,209.8 L347.0,210.5 L347.5,211.3 L348.0,212.3 L348.5,213.4 L349.0,214.6 L349.5,215.9 L350.0,217.2 L350.5,218.6 L351.0,220.0 L351.5,221.4 L352.0,222.8 L352.5,224.2 L353.0,225.6 L353.5,227.1 L354.0,228.5 L354.5,229.9 L355.0,231.2 L355.5,232.3 L356.0,233.3 L356.5,234.0 L357.0,234.4 L357.5,234.4 L358.0,234.1 L358.5,233.4 L359.0,232.4 L359.5,231.1 L360.0,229.6 L360.5,228.0 L361.0,226.2 L361.5,224.3 L362.0,222.5 L362.5,220.7 L363.0,219.0 L363.5,217.3 L364.0,215.7 L364.5,214.1 L365.0,212.5 L365.5,211.1 L366.0,209.8 L366.5,208.8 L367.0,207.9 L367.5,207.3 L368.0,207.0 L368.5,207.0 L369.0,207.4 L369.5,208.2 L370.0,209.4 L370.5,210.8 L371.0,212.5 L371.5,214.3 L372.0,216.4 L372.5,218.5 L373.0,220.7 L373.5,222.8 L374.0,225.0 L374.5,227.2 L375.0,229.4 L375.5,231.7 L376.0,233.9 L376.5,236.1 L377.0,238.0 L377.5,239.8 L378.0,241.3 L378.5,242.5 L379.0,243.2 L379.5,243.5 L380.0,243.3 L380.5,242.5 L381.0,241.1 L381.5,239.3 L382.0,237.1 L382.5,234.7 L383.0,232.1 L383.5,229.4 L384.0,226.8 L384.5,224.3 L385.0,222.0 L385.5,219.9 L386.0,217.8 L386.5,215.9 L387.0,214.0 L387.5,212.3 L388.0,210.6 L388.5,209.1 L389.0,207.8 L389.5,206.7 L390.0,205.7 L390.5,204.9 L391.0,204.3 L391.5,204.0 L392.0,203.9 L392.5,204.1 L393.0,204.5 L393.5,205.3 L394.0,206.3 L394.5,207.6 L395.0,209.0 L395.5,210.4 L396.0,212.0 L396.5,213.5 L397.0,215.0 L397.5,216.5 L398.0,218.0 L398.5,219.6 L399.0,221.0 L399.5,222.2 L400.0,223.2 L400.5,223.8 L401.0,224.0 L401.5,223.9 L402.0,223.5 L402.5,222.8 L403.0,222.0 L403.5,220.9 L404.0,219.8 L404.5,218.6 L405.0,217.3 L405.5,216.1 L406.0,214.9 L406.5,213.7 L407.0,212.6 L407.5,211.5 L408.0,210.4 L408.5,209.5 L409.0,208.7 L409.5,208.0 L410.0,207.5 L410.5,207.2 L411.0,207.2 L411.5,207.4 L412.0,208.0 L412.5,209.1 L413.0,210.6 L413.5,212.4 L414.0,214.6 L414.5,216.9 L415.0,219.5 L415.5,222.1 L416.0,224.8 L416.5,227.5 L417.0,230.0 L417.5,232.5 L418.0,234.8 L418.5,237.1 L419.0,239.3 L419.5,241.5 L420.0,243.6 L420.5,245.6 L421.0,247.4 L421.5,248.9 L422.0,250.3 L422.5,251.3 L423.0,252.1 L423.5,252.5 L424.0,252.5 L424.5,252.1 L425.0,251.4 L425.5,250.4 L426.0,249.3 L426.5,248.0 L427.0,246.6 L427.5,245.3 L428.0,244.0 L428.5,242.8 L429.0,241.6 L429.5,240.4 L430.0,239.3 L430.5,238.3 L431.0,237.4 L431.5,236.7 L432.0,236.1 L432.5,235.7 L433.0,235.5 L433.5,235.6 L434.0,236.0 L434.5,236.8 L435.0,237.8 L435.5,239.1 L436.0,240.7 L436.5,242.4 L437.0,244.2 L437.5,246.1 L438.0,248.1 L438.5,250.0 L439.0,251.9 L439.5,253.8 L440.0,255.5 L440.5,257.1 L441.0,258.6 L441.5,260.0 L442.0,261.4 L442.5,262.7 L443.0,263.9 L443.5,265.0 L444.0,266.0 L444.5,266.7 L445.0,267.3 L445.5,267.7 L446.0,267.9 L446.5,267.8 L447.0,267.5 L447.5,267.0 L448.0,266.3 L448.5,265.5 L449.0,264.6 L449.5,263.6 L450.0,262.6 L450.5,261.5 L451.0,260.5 L451.5,259.5 L452.0,258.4 L452.5,257.3 L453.0,256.2 L453.5,255.2 L454.0,254.3 L454.5,253.5 L455.0,252.8 L455.5,252.4 L456.0,252.2 L456.5,252.2 L457.0,252.6 L457.5,253.2 L458.0,254.2 L458.5,255.5 L459.0,256.9 L459.5,258.6 L460.0,260.4 L460.5,262.4 L461.0,264.4 L461.5,266.5 L462.0,268.6 L462.5,270.6 L463.0,272.7 L463.5,274.8 L464.0,277.0 L464.5,279.2 L465.0,281.4 L465.5,283.4 L466.0,285.3 L466.5,287.0 L467.0,288.5 L467.5,289.7 L468.0,290.5 L468.5,291.0 L469.0,291.0 L469.5,290.6 L470.0,289.7 L470.5,288.4 L471.0,286.8 L471.5,284.9 L472.0,282.8 L472.5,280.4 L473.0,278.0 L473.5,275.4 L474.0,272.8 L474.5,270.1 L475.0,267.5 L475.5,264.8 L476.0,262.0 L476.5,259.1 L477.0,256.1 L477.5,253.1 L478.0,250.1 L478.5,247.0 L479.0,243.9 L479.5,240.9 L480.0,237.7 L480.5,234.4 L481.0,231.2 L481.5,228.1 L482.0,225.3 L482.5,223.0 L483.0,221.2 L483.5,220.0 L484.0,219.6 L484.5,220.0 L485.0,221.1 L485.5,222.7 L486.0,224.8 L486.5,227.2 L487.0,229.8 L487.5,232.5 L488.0,235.1 L488.5,237.7 L489.0,240.1 L489.5,242.4 L490.0,244.6 L490.5,246.8 L491.0,248.8 L491.5,250.8 L492.0,252.7 L492.5,254.5 L493.0,256.3 L493.5,258.1 L494.0,259.9 L494.5,261.9 L495.0,264.0 L495.5,266.1 L496.0,268.1 L496.5,270.1 L497.0,271.8 L497.5,273.4 L498.0,274.6 L498.5,275.5 L499.0,276.0 L499.5,276.1 L500.0,276.0 L500.5,275.7 L501.0,275.3 L501.5,274.7 L502.0,274.0 L502.5,273.2 L503.0,272.4 L503.5,271.5 L504.0,270.7 L504.5,269.9 L505.0,269.2 L505.5,268.6 L506.0,268.2 L506.5,268.0 L507.0,268.0 L507.5,268.2 L508.0,268.5 L508.5,269.1 L509.0,269.8 L509.5,270.6 L510.0,271.5 L510.5,272.5 L511.0,273.5 L511.5,274.6 L512.0,275.6 L512.5,276.7 L513.0,277.6 L513.5,278.5 L514.0,279.3 L514.5,279.9 L515.0,280.4 L515.5,280.7 L516.0,280.8 L516.5,280.7 L517.0,280.3 L517.5,279.6 L518.0,278.6 L518.5,277.5 L519.0,276.2 L519.5,274.7 L520.0,273.1 L520.5,271.4 L521.0,269.7 L521.5,268.0 L522.0,266.3 L522.5,264.6 L523.0,263.1 L523.5,261.6 L524.0,260.3 L524.5,259.1 L525.0,258.0 L525.5,257.0 L526.0,256.0 L526.5,255.1 L527.0,254.2 L527.5,253.4 L528.0,252.6 L528.5,252.0 L529.0,251.4 L529.5,250.8 L530.0,250.3 L530.5,249.9 L531.0,249.6 L531.5,249.3 L532.0,249.1 L532.5,248.9 L533.0,248.8 L533.5,248.8 L534.0,248.9 L534.5,249.0 L535.0,249.2 L535.5,249.4 L536.0,249.8 L536.5,250.2 L537.0,250.7 L537.5,251.4 L538.0,252.2 L538.5,253.2 L539.0,254.5 L539.5,255.8 L540.0,257.3 L540.5,258.7 L541.0,260.2 L541.5,261.6 L542.0,262.9 L542.5,264.3 L543.0,265.6 L543.5,267.0 L544.0,268.2 L544.5,269.5 L545.0,270.6 L545.5,271.6 L546.0,272.5 L546.5,273.2 L547.0,273.8 L547.5,274.2 L548.0,274.4 L548.5,274.4 L549.0,274.2 L549.5,273.8 L550.0,273.3 L550.5,272.6 L551.0,271.8 L551.5,271.0 L552.0,270.0 L552.5,269.0 L553.0,267.9 L553.5,266.8 L554.0,265.7 L554.5,264.6 L555.0,263.5 L555.5,262.4 L556.0,261.4 L556.5,260.4 L557.0,259.4 L557.5,258.4 L558.0,257.4 L558.5,256.4 L559.0,255.5 L559.5,254.7 L560.0,253.9 L560.5,253.2 L561.0,252.7 L561.5,252.2 L562.0,251.9 L562.5,251.7 L563.0,251.6 L563.5,251.5 L564.0,251.4 L564.5,251.4 L565.0,251.4 L565.5,251.5 L566.0,251.6 L566.5,251.7 L567.0,251.9 L567.5,252.1 L568.0,252.3 L568.5,252.5 L569.0,252.7 L569.5,253.0 L570.0,253.2 L570.5,253.5 L571.0,253.8 L571.5,254.1 L572.0,254.3 L572.5,254.6 L573.0,254.8 L573.5,255.0 L574.0,255.2 L574.5,255.2 L575.0,255.3 L575.5,255.2 L576.0,255.0 L576.5,254.7 L577.0,254.3 L577.5,253.7 L578.0,253.0 L578.5,252.2 L579.0,251.4 L579.5,250.5 L580.0,249.7 L580.5,249.0 L581.0,248.2 L581.5,247.5 L582.0,246.8 L582.5,246.1 L583.0,245.5 L583.5,244.8 L584.0,244.2 L584.5,243.5 L585.0,242.9 L585.5,242.3 L586.0,241.7 L586.5,241.1 L587.0,240.6 L587.5,240.0 L588.0,239.5 L588.5,238.9 L589.0,238.4 L589.5,237.9 L590.0,237.5 L590.5,237.0 L591.0,236.5 L591.5,236.1 L592.0,235.6 L592.5,235.2 L593.0,234.7 L593.5,234.3 L594.0,233.9 L594.5,233.4 L595.0,233.0 L595.5,232.6 L596.0,232.2 L596.5,231.9 L597.0,231.5 L597.5,231.1 L598.0,230.8 L598.5,230.4 L599.0,230.1 L599.5,229.8 L600.0,229.5 L600.5,229.2 L601.0,229.0 L601.5,228.7 L602.0,228.5 L602.5,228.3 L603.0,228.0 L603.5,227.8 L604.0,227.6 L604.5,227.4 L605.0,227.3 L605.5,227.1 L606.0,227.0 L606.5,226.9 L607.0,226.8 L607.5,226.8 L608.0,226.8 L608.5,226.8 L609.0,226.9 L609.5,227.0 L610.0,227.1 L610.5,227.3 L611.0,227.5 L611.5,227.7 L612.0,228.0 L612.5,228.2 L613.0,228.5 L613.5,228.7 L614.0,229.0 L614.5,229.2 L615.0,229.4 L615.5,229.5 L616.0,229.7 L616.5,229.8 L617.0,229.9 L617.5,230.0 L618.0,230.1 L618.5,230.2 L619.0,230.2 L619.5,230.2 L620.0,230.2 L620.5,230.1 L621.0,230.0 L621.5,229.9 L622.0,229.7 L622.5,229.5 L623.0,229.2 L623.5,228.7 L624.0,228.0 L624.5,227.2 L625.0,226.3 L625.5,225.3 L626.0,224.2 L626.5,223.0 L627.0,221.7 L627.5,220.3 L628.0,218.9 L628.5,217.3 L629.0,215.6 L629.5,213.8 L630.0,212.0 L630.5,210.1 L631.0,208.2 L631.5,206.4 L632.0,204.6 L632.5,202.7 L633.0,200.9 L633.5,199.1 L634.0,197.3 L634.5,195.6 L635.0,193.9 L635.5,192.2 L636.0,190.7 L636.5,189.2 L637.0,187.9 L637.5,186.6 L638.0,185.5 L638.5,184.5 L639.0,183.5 L639.5,182.7 L640.0,181.9 L640.5,181.1 L641.0,180.4 L641.5,179.8 L642.0,179.3 L642.5,178.8 L643.0,178.3 L643.5,177.9 L644.0,177.5 L644.5,177.2 L645.0,176.8 L645.5,176.5 L646.0,176.2 L646.5,176.0 L647.0,175.8 L647.5,175.6 L648.0,175.5 L648.5,175.5 L649.0,175.6 L649.5,176.0 L650.0,176.7 L650.5,177.7 L651.0,179.1 L651.5,180.9 L652.0,183.2 L652.5,185.9 L653.0,188.6 L653.5,191.1 L654.0,193.0 L654.5,194.1 L655.0,194.0 L655.5,192.5 L656.0,188.3 L656.5,182.1 L657.0,175.8 L657.5,170.0 L658.0,164.7 L658.0,169.7 L657.5,175.0 L657.0,180.8 L656.5,187.1 L656.0,193.3 L655.5,197.5 L655.0,199.0 L654.5,199.1 L654.0,198.0 L653.5,196.1 L653.0,193.6 L652.5,190.9 L652.0,188.2 L651.5,185.9 L651.0,184.1 L650.5,182.7 L650.0,181.7 L649.5,181.0 L649.0,180.6 L648.5,180.5 L648.0,180.5 L647.5,180.6 L647.0,180.8 L646.5,181.0 L646.0,181.2 L645.5,181.5 L645.0,181.8 L644.5,182.2 L644.0,182.5 L643.5,182.9 L643.0,183.3 L642.5,183.8 L642.0,184.3 L641.5,184.8 L641.0,185.5 L640.5,186.1 L640.0,186.9 L639.5,187.7 L639.0,188.5 L638.5,189.5 L638.0,190.5 L637.5,191.6 L637.0,192.9 L636.5,194.2 L636.0,195.7 L635.5,197.2 L635.0,198.9 L634.5,200.6 L634.0,202.3 L633.5,204.1 L633.0,205.9 L632.5,207.8 L632.0,209.6 L631.5,211.4 L631.0,213.2 L630.5,215.1 L630.0,217.0 L629.5,218.8 L629.0,220.6 L628.5,222.4 L628.0,223.9 L627.5,225.4 L627.0,226.7 L626.5,228.0 L626.0,229.2 L625.5,230.3 L625.0,231.3 L624.5,232.2 L624.0,233.0 L623.5,233.7 L623.0,234.2 L622.5,234.5 L622.0,234.7 L621.5,234.9 L621.0,235.1 L620.5,235.2 L620.0,235.2 L619.5,235.2 L619.0,235.2 L618.5,235.2 L618.0,235.1 L617.5,235.0 L617.0,234.9 L616.5,234.8 L616.0,234.7 L615.5,234.5 L615.0,234.4 L614.5,234.2 L614.0,234.0 L613.5,233.8 L613.0,233.5 L612.5,233.3 L612.0,233.0 L611.5,232.8 L611.0,232.5 L610.5,232.3 L610.0,232.1 L609.5,232.0 L609.0,231.9 L608.5,231.8 L608.0,231.8 L607.5,231.8 L607.0,231.9 L606.5,231.9 L606.0,232.1 L605.5,232.2 L605.0,232.3 L604.5,232.5 L604.0,232.7 L603.5,232.9 L603.0,233.1 L602.5,233.3 L602.0,233.5 L601.5,233.8 L601.0,234.0 L600.5,234.3 L600.0,234.6 L599.5,234.9 L599.0,235.2 L598.5,235.5 L598.0,235.8 L597.5,236.2 L597.0,236.5 L596.5,236.9 L596.0,237.3 L595.5,237.7 L595.0,238.1 L594.5,238.5 L594.0,238.9 L593.5,239.3 L593.0,239.8 L592.5,240.2 L592.0,240.7 L591.5,241.1 L591.0,241.6 L590.5,242.1 L590.0,242.5 L589.5,243.0 L589.0,243.5 L588.5,244.0 L588.0,244.5 L587.5,245.1 L587.0,245.6 L586.5,246.2 L586.0,246.8 L585.5,247.4 L585.0,248.0 L584.5,248.6 L584.0,249.2 L583.5,249.9 L583.0,250.5 L582.5,251.2 L582.0,251.9 L581.5,252.6 L581.0,253.3 L580.5,254.0 L580.0,254.8 L579.5,255.6 L579.0,256.5 L578.5,257.3 L578.0,258.1 L577.5,258.8 L577.0,259.4 L576.5,259.9 L576.0,260.2 L575.5,260.3 L575.0,260.4 L574.5,260.4 L574.0,260.3 L573.5,260.1 L573.0,259.9 L572.5,259.7 L572.0,259.5 L571.5,259.2 L571.0,258.9 L570.5,258.6 L570.0,258.4 L569.5,258.1 L569.0,257.9 L568.5,257.6 L568.0,257.4 L567.5,257.2 L567.0,257.0 L566.5,256.9 L566.0,256.7 L565.5,256.6 L565.0,256.6 L564.5,256.6 L564.0,256.6 L563.5,256.6 L563.0,256.7 L562.5,256.9 L562.0,257.1 L561.5,257.4 L561.0,257.8 L560.5,258.4 L560.0,259.1 L559.5,259.8 L559.0,260.7 L558.5,261.6 L558.0,262.6 L557.5,263.6 L557.0,264.6 L556.5,265.6 L556.0,266.6 L555.5,267.6 L555.0,268.7 L554.5,269.8 L554.0,270.9 L553.5,272.0 L553.0,273.1 L552.5,274.2 L552.0,275.2 L551.5,276.2 L551.0,277.0 L550.5,277.8 L550.0,278.5 L549.5,279.0 L549.0,279.4 L548.5,279.6 L548.0,279.6 L547.5,279.4 L547.0,279.0 L546.5,278.5 L546.0,277.7 L545.5,276.8 L545.0,275.8 L544.5,274.7 L544.0,273.5 L543.5,272.2 L543.0,270.9 L542.5,269.5 L542.0,268.2 L541.5,266.9 L541.0,265.5 L540.5,264.0 L540.0,262.5 L539.5,261.1 L539.0,259.7 L538.5,258.5 L538.0,257.5 L537.5,256.6 L537.0,256.0 L536.5,255.5 L536.0,255.0 L535.5,254.7 L535.0,254.4 L534.5,254.3 L534.0,254.2 L533.5,254.1 L533.0,254.2 L532.5,254.2 L532.0,254.4 L531.5,254.6 L531.0,254.9 L530.5,255.2 L530.0,255.7 L529.5,256.2 L529.0,256.7 L528.5,257.3 L528.0,258.0 L527.5,258.7 L527.0,259.5 L526.5,260.4 L526.0,261.3 L525.5,262.3 L525.0,263.4 L524.5,264.5 L524.0,265.7 L523.5,267.0 L523.0,268.4 L522.5,270.0 L522.0,271.7 L521.5,273.4 L521.0,275.1 L520.5,276.8 L520.0,278.5 L519.5,280.1 L519.0,281.6 L518.5,282.9 L518.0,284.1 L517.5,285.0 L517.0,285.7 L516.5,286.1 L516.0,286.3 L515.5,286.2 L515.0,285.8 L514.5,285.4 L514.0,284.7 L513.5,283.9 L513.0,283.1 L512.5,282.1 L512.0,281.1 L511.5,280.1 L511.0,279.0 L510.5,278.0 L510.0,277.0 L509.5,276.1 L509.0,275.3 L508.5,274.6 L508.0,274.0 L507.5,273.6 L507.0,273.5 L506.5,273.5 L506.0,273.7 L505.5,274.2 L505.0,274.7 L504.5,275.4 L504.0,276.2 L503.5,277.0 L503.0,277.9 L502.5,278.7 L502.0,279.5 L501.5,280.2 L501.0,280.8 L500.5,281.3 L500.0,281.6 L499.5,281.7 L499.0,281.5 L498.5,281.1 L498.0,280.2 L497.5,279.0 L497.0,277.4 L496.5,275.7 L496.0,273.7 L495.5,271.7 L495.0,269.6 L494.5,267.5 L494.0,265.6 L493.5,263.7 L493.0,261.9 L492.5,260.1 L492.0,258.3 L491.5,256.4 L491.0,254.5 L490.5,252.4 L490.0,250.3 L489.5,248.0 L489.0,245.7 L488.5,243.4 L488.0,240.8 L487.5,238.1 L487.0,235.4 L486.5,232.9 L486.0,230.5 L485.5,228.4 L485.0,226.8 L484.5,225.7 L484.0,225.3 L483.5,225.7 L483.0,226.9 L482.5,228.7 L482.0,231.1 L481.5,233.8 L481.0,236.9 L480.5,240.1 L480.0,243.4 L479.5,246.6 L479.0,249.7 L478.5,252.8 L478.0,255.9 L477.5,258.9 L477.0,261.9 L476.5,264.9 L476.0,267.8 L475.5,270.6 L475.0,273.3 L474.5,275.9 L474.0,278.6 L473.5,281.2 L473.0,283.8 L472.5,286.3 L472.0,288.6 L471.5,290.8 L471.0,292.7 L470.5,294.3 L470.0,295.6 L469.5,296.5 L469.0,296.9 L468.5,296.9 L468.0,296.4 L467.5,295.6 L467.0,294.4 L466.5,292.9 L466.0,291.2 L465.5,289.3 L465.0,287.3 L464.5,285.2 L464.0,283.0 L463.5,280.8 L463.0,278.6 L462.5,276.6 L462.0,274.5 L461.5,272.5 L461.0,270.4 L460.5,268.4 L460.0,266.4 L459.5,264.6 L459.0,263.0 L458.5,261.5 L458.0,260.3 L457.5,259.4 L457.0,258.8 L456.5,258.5 L456.0,258.5 L455.5,258.8 L455.0,259.4 L454.5,260.1 L454.0,261.0 L453.5,262.0 L453.0,263.1 L452.5,264.3 L452.0,265.5 L451.5,266.7 L451.0,267.9 L450.5,269.0 L450.0,270.2 L449.5,271.4 L449.0,272.5 L448.5,273.5 L448.0,274.5 L447.5,275.3 L447.0,275.9 L446.5,276.4 L446.0,276.6 L445.5,276.5 L445.0,276.3 L444.5,275.8 L444.0,275.1 L443.5,274.3 L443.0,273.3 L442.5,272.2 L442.0,271.0 L441.5,269.7 L441.0,268.4 L440.5,267.0 L440.0,265.5 L439.5,263.9 L439.0,262.2 L438.5,260.5 L438.0,258.7 L437.5,256.9 L437.0,255.2 L436.5,253.6 L436.0,252.1 L435.5,250.7 L435.0,249.6 L434.5,248.6 L434.0,248.0 L433.5,247.6 L433.0,247.5 L432.5,247.7 L432.0,248.1 L431.5,248.7 L431.0,249.4 L430.5,250.3 L430.0,251.3 L429.5,252.4 L429.0,253.6 L428.5,254.8 L428.0,256.0 L427.5,257.3 L427.0,258.7 L426.5,260.0 L426.0,261.4 L425.5,262.5 L425.0,263.5 L424.5,264.1 L424.0,264.4 L423.5,264.3 L423.0,263.7 L422.5,262.7 L422.0,261.4 L421.5,259.8 L421.0,257.9 L420.5,255.8 L420.0,253.6 L419.5,251.2 L419.0,248.8 L418.5,246.3 L418.0,243.8 L417.5,241.4 L417.0,238.8 L416.5,236.0 L416.0,233.3 L415.5,230.4 L415.0,227.7 L414.5,225.0 L414.0,222.5 L413.5,220.3 L413.0,218.3 L412.5,216.7 L412.0,215.5 L411.5,214.8 L411.0,214.5 L410.5,214.4 L410.0,214.6 L409.5,215.0 L409.0,215.5 L408.5,216.3 L408.0,217.1 L407.5,218.1 L407.0,219.1 L406.5,220.2 L406.0,221.3 L405.5,222.4 L405.0,223.6 L404.5,224.8 L404.0,226.0 L403.5,227.1 L403.0,228.1 L402.5,228.9 L402.0,229.6 L401.5,230.0 L401.0,230.1 L400.5,229.8 L400.0,229.2 L399.5,228.2 L399.0,227.0 L398.5,225.6 L398.0,224.0 L397.5,222.5 L397.0,221.0 L396.5,219.5 L396.0,218.0 L395.5,216.4 L395.0,215.0 L394.5,213.6 L394.0,212.3 L393.5,211.3 L393.0,210.5 L392.5,210.1 L392.0,209.9 L391.5,210.0 L391.0,210.3 L390.5,210.9 L390.0,211.7 L389.5,212.7 L389.0,213.8 L388.5,215.2 L388.0,216.6 L387.5,218.3 L387.0,220.0 L386.5,221.9 L386.0,223.8 L385.5,225.9 L385.0,228.0 L384.5,230.3 L384.0,232.8 L383.5,235.4 L383.0,238.1 L382.5,240.7 L382.0,243.2 L381.5,245.3 L381.0,247.2 L380.5,248.5 L380.0,249.4 L379.5,249.6 L379.0,249.3 L378.5,248.5 L378.0,247.3 L377.5,245.8 L377.0,244.1 L376.5,242.1 L376.0,239.9 L375.5,237.7 L375.0,235.4 L374.5,233.2 L374.0,231.0 L373.5,228.9 L373.0,226.7 L372.5,224.5 L372.0,222.4 L371.5,220.4 L371.0,218.5 L370.5,216.9 L370.0,215.4 L369.5,214.3 L369.0,213.5 L368.5,213.1 L368.0,213.0 L367.5,213.3 L367.0,214.0 L366.5,214.8 L366.0,215.9 L365.5,217.2 L365.0,218.6 L364.5,220.1 L364.0,221.7 L363.5,223.4 L363.0,225.0 L362.5,226.7 L362.0,228.6 L361.5,230.4 L361.0,232.3 L360.5,234.0 L360.0,235.7 L359.5,237.2 L359.0,238.5 L358.5,239.5 L358.0,240.2 L357.5,240.6 L357.0,240.5 L356.5,240.1 L356.0,239.4 L355.5,238.4 L355.0,237.3 L354.5,236.0 L354.0,234.7 L353.5,233.2 L353.0,231.7 L352.5,230.3 L352.0,228.9 L351.5,227.5 L351.0,226.1 L350.5,224.7 L350.0,223.3 L349.5,222.0 L349.0,220.7 L348.5,219.5 L348.0,218.4 L347.5,217.5 L347.0,216.6 L346.5,216.0 L346.0,215.5 L345.5,215.2 L345.0,215.1 L344.5,215.2 L344.0,215.5 L343.5,216.0 L343.0,216.5 L342.5,217.2 L342.0,218.0 L341.5,218.8 L341.0,219.6 L340.5,220.4 L340.0,221.2 L339.5,221.9 L339.0,222.6 L338.5,223.1 L338.0,223.5 L337.5,223.8 L337.0,223.8 L336.5,223.6 L336.0,223.3 L335.5,222.8 L335.0,222.2 L334.5,221.6 L334.0,220.9 L333.5,220.4 L333.0,220.0 L332.5,219.8 L332.0,219.7 L331.5,220.0 L331.0,220.4 L330.5,221.1 L330.0,221.9 L329.5,222.9 L329.0,224.0 L328.5,225.2 L328.0,226.5 L327.5,227.9 L327.0,229.3 L326.5,230.7 L326.0,232.1 L325.5,233.6 L325.0,235.2 L324.5,236.7 L324.0,238.2 L323.5,239.6 L323.0,240.9 L322.5,242.0 L322.0,242.8 L321.5,243.3 L321.0,243.4 L320.5,243.0 L320.0,242.3 L319.5,241.3 L319.0,240.0 L318.5,238.5 L318.0,236.8 L317.5,234.9 L317.0,233.0 L316.5,231.1 L316.0,229.2 L315.5,227.2 L315.0,225.2 L314.5,223.2 L314.0,221.2 L313.5,219.3 L313.0,217.6 L312.5,216.2 L312.0,215.1 L311.5,214.5 L311.0,214.3 L310.5,214.6 L310.0,215.2 L309.5,216.3 L309.0,217.5 L308.5,219.1 L308.0,220.8 L307.5,222.6 L307.0,224.5 L306.5,226.4 L306.0,228.2 L305.5,230.1 L305.0,232.1 L304.5,234.0 L304.0,235.8 L303.5,237.3 L303.0,238.5 L302.5,239.2 L302.0,239.4 L301.5,239.1 L301.0,238.2 L300.5,236.9 L300.0,235.2 L299.5,233.3 L299.0,231.3 L298.5,229.0 L298.0,226.4 L297.5,223.6 L297.0,220.8 L296.5,218.0 L296.0,215.4 L295.5,212.9 L295.0,210.5 L294.5,208.1 L294.0,205.9 L293.5,203.8 L293.0,201.7 L292.5,199.7 L292.0,197.9 L291.5,196.6 L291.0,195.9 L290.5,195.9 L290.0,196.6 L289.5,197.9 L289.0,199.6 L288.5,201.8 L288.0,204.4 L287.5,207.2 L287.0,210.2 L286.5,213.3 L286.0,216.4 L285.5,219.4 L285.0,222.3 L284.5,225.2 L284.0,228.2 L283.5,231.0 L283.0,233.7 L282.5,236.1 L282.0,238.1 L281.5,239.5 L281.0,240.4 L280.5,240.7 L280.0,240.7 L279.5,240.6 L279.0,240.3 L278.5,239.8 L278.0,239.4 L277.5,238.9 L277.0,238.4 L276.5,237.8 L276.0,237.2 L275.5,236.7 L275.0,236.2 L274.5,235.8 L274.0,235.4 L273.5,235.1 L273.0,234.9 L272.5,234.7 L272.0,234.5 L271.5,234.4 L271.0,234.3 L270.5,234.4 L270.0,234.4 L269.5,234.6 L269.0,234.8 L268.5,235.0 L268.0,235.2 L267.5,235.3 L267.0,235.3 L266.5,235.2 L266.0,235.0 L265.5,234.5 L265.0,233.6 L264.5,232.6 L264.0,231.5 L263.5,230.3 L263.0,229.1 L262.5,228.1 L262.0,227.2 L261.5,226.6 L261.0,226.3 L260.5,226.5 L260.0,227.1 L259.5,228.1 L259.0,229.5 L258.5,231.2 L258.0,233.3 L257.5,235.5 L257.0,238.2 L256.5,241.4 L256.0,244.9 L255.5,248.7 L255.0,252.7 L254.5,256.6 L254.0,260.6 L253.5,264.8 L253.0,268.9 L252.5,272.9 L252.0,276.3 L251.5,279.1 L251.0,281.0 L250.5,281.8 L250.0,281.8 L249.5,281.1 L249.0,279.8 L248.5,278.0 L248.0,275.8 L247.5,273.3 L247.0,270.7 L246.5,268.0 L246.0,265.3 L245.5,262.7 L245.0,260.3 L244.5,257.8 L244.0,255.5 L243.5,253.4 L243.0,251.6 L242.5,250.3 L242.0,249.6 L241.5,249.5 L241.0,250.1 L240.5,251.3 L240.0,253.1 L239.5,255.3 L239.0,257.8 L238.5,260.6 L238.0,263.4 L237.5,266.2 L237.0,268.9 L236.5,271.6 L236.0,274.3 L235.5,276.9 L235.0,279.4 L234.5,281.6 L234.0,283.4 L233.5,284.7 L233.0,285.4 L232.5,285.4 L232.0,284.9 L231.5,283.9 L231.0,282.7 L230.5,281.2 L230.0,279.7 L229.5,278.1 L229.0,276.7 L228.5,275.6 L228.0,274.8 L227.5,274.5 L227.0,274.9 L226.5,276.0 L226.0,277.9 L225.5,280.5 L225.0,283.8 L224.5,288.1 L224.0,293.3 L223.5,298.5 L223.0,302.9 L222.5,306.5 L222.0,309.7 L221.5,313.0 L221.0,317.0 L220.5,322.3 L220.0,329.3 L219.5,338.0 L219.0,347.6 L218.5,357.5 L218.0,367.7 L217.5,378.1Z" fill="#b4b4b4" stroke="none"/>
<path d="M217.4,379.0 L217.9,368.6 L218.4,358.2 L218.9,348.0 L219.4,338.1 L219.9,328.9 L220.4,321.3 L220.9,315.6 L221.4,311.1 L221.9,307.5 L222.4,304.1 L222.9,300.5 L223.4,296.1 L223.9,290.9 L224.4,285.5 L224.9,280.8 L225.4,277.2 L225.9,274.3 L226.4,272.1 L226.9,270.6 L227.4,270.0 L227.9,270.2 L228.4,270.9 L228.9,272.1 L229.4,273.5 L229.9,275.2 L230.4,276.9 L230.9,278.5 L231.4,280.0 L231.9,281.1 L232.4,281.8 L232.9,282.0 L233.4,281.4 L233.9,280.2 L234.4,278.5 L234.9,276.4 L235.4,273.9 L235.9,271.2 L236.4,268.4 L236.9,265.6 L237.4,262.7 L237.9,259.7 L238.4,256.6 L238.9,253.7 L239.4,250.9 L239.9,248.4 L240.4,246.4 L240.9,244.9 L241.4,244.1 L241.9,244.1 L242.4,244.9 L242.9,246.3 L243.4,248.2 L243.9,250.5 L244.4,253.1 L244.9,255.8 L245.4,258.5 L245.9,261.1 L246.4,263.9 L246.9,266.7 L247.4,269.4 L247.9,271.9 L248.4,274.1 L248.9,275.9 L249.4,277.3 L249.9,278.1 L250.4,278.3 L250.9,277.6 L251.4,275.9 L251.9,273.3 L252.4,270.0 L252.9,266.1 L253.4,262.0 L253.9,257.8 L254.4,253.8 L254.9,249.9 L255.4,246.0 L255.9,242.2 L256.4,238.6 L256.9,235.3 L257.4,232.5 L257.9,230.2 L258.4,228.1 L258.9,226.2 L259.4,224.7 L259.9,223.6 L260.4,222.8 L260.9,222.5 L261.4,222.6 L261.9,223.0 L262.4,223.6 L262.9,224.4 L263.4,225.3 L263.9,226.2 L264.4,227.1 L264.9,227.9 L265.4,228.6 L265.9,229.0 L266.4,229.1 L266.9,229.0 L267.4,228.8 L267.9,228.5 L268.4,228.0 L268.9,227.5 L269.4,227.1 L269.9,226.6 L270.4,226.2 L270.9,225.7 L271.4,225.4 L271.9,225.0 L272.4,224.7 L272.9,224.4 L273.4,224.2 L273.9,224.0 L274.4,223.9 L274.9,223.8 L275.4,223.8 L275.9,223.7 L276.4,223.7 L276.9,223.7 L277.4,223.8 L277.9,224.0 L278.4,224.2 L278.9,224.4 L279.4,224.6 L279.9,224.8 L280.4,224.8 L280.9,224.7 L281.4,224.3 L281.9,223.3 L282.4,221.9 L282.9,220.0 L283.4,217.9 L283.9,215.5 L284.4,213.0 L284.9,210.5 L285.4,208.0 L285.9,205.3 L286.4,202.5 L286.9,199.7 L287.4,197.1 L287.9,194.5 L288.4,192.2 L288.9,190.3 L289.4,188.7 L289.9,187.6 L290.4,187.1 L290.9,187.2 L291.4,188.2 L291.9,189.9 L292.4,192.2 L292.9,194.8 L293.4,197.5 L293.9,200.1 L294.4,202.7 L294.9,205.4 L295.4,208.1 L295.9,210.9 L296.4,213.7 L296.9,216.5 L297.4,219.4 L297.9,222.3 L298.4,225.0 L298.9,227.5 L299.4,229.9 L299.9,232.1 L300.4,234.2 L300.9,235.9 L301.4,237.2 L301.9,237.9 L302.4,237.9 L302.9,237.3 L303.4,236.1 L303.9,234.5 L304.4,232.6 L304.9,230.6 L305.4,228.5 L305.9,226.4 L306.4,224.4 L306.9,222.4 L307.4,220.4 L307.9,218.5 L308.4,216.7 L308.9,215.1 L309.4,213.7 L309.9,212.6 L310.4,211.9 L310.9,211.5 L311.4,211.6 L311.9,212.2 L312.4,213.2 L312.9,214.7 L313.4,216.4 L313.9,218.4 L314.4,220.6 L314.9,222.9 L315.4,225.2 L315.9,227.5 L316.4,229.9 L316.9,232.3 L317.4,234.7 L317.9,237.2 L318.4,239.5 L318.9,241.6 L319.4,243.5 L319.9,245.0 L320.4,246.1 L320.9,246.7 L321.4,246.7 L321.9,246.2 L322.4,245.2 L322.9,243.7 L323.4,242.0 L323.9,240.0 L324.4,237.9 L324.9,235.8 L325.4,233.8 L325.9,231.9 L326.4,230.1 L326.9,228.4 L327.4,226.8 L327.9,225.3 L328.4,223.9 L328.9,222.6 L329.4,221.4 L329.9,220.4 L330.4,219.6 L330.9,219.0 L331.4,218.7 L331.9,218.5 L332.4,218.6 L332.9,218.9 L333.4,219.3 L333.9,219.9 L334.4,220.5 L334.9,221.1 L335.4,221.7 L335.9,222.2 L336.4,222.6 L336.9,222.8 L337.4,222.8 L337.9,222.7 L338.4,222.4 L338.9,222.0 L339.4,221.6 L339.9,221.0 L340.4,220.4 L340.9,219.8 L341.4,219.2 L341.9,218.6 L342.4,218.1 L342.9,217.6 L343.4,217.2 L343.9,216.9 L344.4,216.7 L344.9,216.7 L345.4,216.9 L345.9,217.3 L346.4,217.9 L346.9,218.6 L347.4,219.6 L347.9,220.6 L348.4,221.8 L348.9,223.0 L349.4,224.4 L349.9,225.9 L350.4,227.4 L350.9,228.9 L351.4,230.5 L351.9,232.2 L352.4,233.9 L352.9,235.7 L353.4,237.5 L353.9,239.4 L354.4,241.2 L354.9,242.8 L355.4,244.3 L355.9,245.6 L356.4,246.5 L356.9,247.1 L357.4,247.2 L357.9,246.9 L358.4,246.0 L358.9,244.7 L359.4,242.9 L359.9,240.9 L360.4,238.7 L360.9,236.2 L361.4,233.7 L361.9,231.2 L362.4,228.8 L362.9,226.4 L363.4,224.2 L363.9,222.1 L364.4,219.9 L364.9,217.9 L365.4,216.0 L365.9,214.3 L366.4,212.8 L366.9,211.6 L367.4,210.7 L367.9,210.1 L368.4,210.0 L368.9,210.3 L369.4,211.1 L369.9,212.3 L370.4,213.9 L370.9,215.7 L371.4,217.8 L371.9,220.1 L372.4,222.5 L372.9,225.0 L373.4,227.5 L373.9,230.0 L374.4,232.5 L374.9,235.1 L375.4,237.8 L375.9,240.5 L376.4,243.0 L376.9,245.4 L377.4,247.6 L377.9,249.4 L378.4,250.9 L378.9,251.9 L379.4,252.3 L379.9,252.2 L380.4,251.4 L380.9,249.8 L381.4,247.7 L381.9,245.2 L382.4,242.3 L382.9,239.2 L383.4,236.0 L383.9,232.9 L384.4,229.8 L384.9,227.0 L385.4,224.5 L385.9,222.0 L386.4,219.7 L386.9,217.4 L387.4,215.3 L387.9,213.4 L388.4,211.6 L388.9,209.9 L389.4,208.5 L389.9,207.3 L390.4,206.3 L390.9,205.6 L391.4,205.1 L391.9,204.9 L392.4,205.0 L392.9,205.4 L393.4,206.2 L393.9,207.3 L394.4,208.6 L394.9,210.1 L395.4,211.7 L395.9,213.4 L396.4,215.1 L396.9,216.7 L397.4,218.3 L397.9,219.9 L398.4,221.5 L398.9,222.9 L399.4,224.2 L399.9,225.2 L400.4,225.8 L400.9,226.0 L401.4,225.7 L401.9,225.0 L402.4,223.9 L402.9,222.5 L403.4,220.8 L403.9,219.0 L404.4,217.1 L404.9,215.1 L405.4,213.2 L405.9,211.4 L406.4,209.6 L406.9,207.8 L407.4,206.1 L407.9,204.4 L408.4,202.9 L408.9,201.5 L409.4,200.4 L409.9,199.5 L410.4,198.9 L410.9,198.6 L411.4,198.7 L411.9,199.2 L412.4,200.3 L412.9,201.9 L413.4,204.0 L413.9,206.5 L414.4,209.3 L414.9,212.3 L415.4,215.4 L415.9,218.7 L416.4,221.9 L416.9,225.2 L417.4,228.2 L417.9,231.1 L418.4,234.1 L418.9,237.0 L419.4,239.8 L419.9,242.6 L420.4,245.2 L420.9,247.7 L421.4,249.9 L421.9,251.8 L422.4,253.5 L422.9,254.7 L423.4,255.6 L423.9,256.0 L424.4,256.0 L424.9,255.6 L425.4,254.9 L425.9,254.1 L426.4,253.1 L426.9,251.9 L427.4,250.8 L427.9,249.7 L428.4,248.7 L428.9,247.6 L429.4,246.6 L429.9,245.6 L430.4,244.7 L430.9,244.0 L431.4,243.3 L431.9,242.7 L432.4,242.4 L432.9,242.2 L433.4,242.3 L433.9,242.6 L434.4,243.2 L434.9,244.1 L435.4,245.2 L435.9,246.5 L436.4,247.9 L436.9,249.5 L437.4,251.2 L437.9,252.9 L438.4,254.7 L438.9,256.4 L439.4,258.1 L439.9,259.7 L440.4,261.2 L440.9,262.6 L441.4,264.0 L441.9,265.3 L442.4,266.5 L442.9,267.7 L443.4,268.7 L443.9,269.7 L444.4,270.4 L444.9,271.0 L445.4,271.4 L445.9,271.5 L446.4,271.4 L446.9,271.1 L447.4,270.5 L447.9,269.8 L448.4,269.0 L448.9,268.0 L449.4,267.0 L449.9,265.9 L450.4,264.8 L450.9,263.7 L451.4,262.6 L451.9,261.5 L452.4,260.4 L452.9,259.3 L453.4,258.3 L453.9,257.3 L454.4,256.5 L454.9,255.8 L455.4,255.3 L455.9,255.0 L456.4,255.0 L456.9,255.2 L457.4,255.9 L457.9,256.8 L458.4,258.0 L458.9,259.5 L459.4,261.1 L459.9,262.9 L460.4,264.9 L460.9,266.9 L461.4,269.0 L461.9,271.1 L462.4,273.2 L462.9,275.2 L463.4,277.4 L463.9,279.6 L464.4,281.8 L464.9,283.9 L465.4,286.0 L465.9,288.0 L466.4,289.7 L466.9,291.2 L467.4,292.5 L467.9,293.4 L468.4,293.9 L468.9,294.0 L469.4,293.6 L469.9,292.8 L470.4,291.6 L470.9,290.0 L471.4,288.2 L471.9,286.1 L472.4,283.7 L472.9,281.3 L473.4,278.7 L473.9,276.1 L474.4,273.5 L474.9,271.0 L475.4,268.4 L475.9,265.7 L476.4,262.9 L476.9,260.0 L477.4,257.2 L477.9,254.2 L478.4,251.3 L478.9,248.4 L479.4,245.4 L479.9,242.3 L480.4,239.1 L480.9,236.0 L481.4,232.9 L481.9,230.2 L482.4,227.8 L482.9,225.8 L483.4,224.6 L483.9,224.0 L484.4,224.2 L484.9,225.1 L485.4,226.5 L485.9,228.4 L486.4,230.6 L486.9,233.0 L487.4,235.6 L487.9,238.1 L488.4,240.6 L488.9,242.9 L489.4,245.1 L489.9,247.2 L490.4,249.3 L490.9,251.3 L491.4,253.2 L491.9,255.1 L492.4,256.9 L492.9,258.7 L493.4,260.5 L493.9,262.4 L494.4,264.3 L494.9,266.4 L495.4,268.5 L495.9,270.5 L496.4,272.5 L496.9,274.3 L497.4,275.9 L497.9,277.2 L498.4,278.1 L498.9,278.7 L499.4,278.9 L499.9,278.8 L500.4,278.6 L500.9,278.2 L501.4,277.6 L501.9,276.9 L502.4,276.1 L502.9,275.3 L503.4,274.4 L503.9,273.6 L504.4,272.8 L504.9,272.1 L505.4,271.5 L505.9,271.1 L506.4,270.8 L506.9,270.7 L507.4,270.8 L507.9,271.2 L508.4,271.7 L508.9,272.4 L509.4,273.2 L509.9,274.1 L510.4,275.1 L510.9,276.1 L511.4,277.1 L511.9,278.2 L512.4,279.2 L512.9,280.2 L513.4,281.1 L513.9,281.9 L514.4,282.5 L514.9,283.0 L515.4,283.4 L515.9,283.5 L516.4,283.5 L516.9,283.1 L517.4,282.5 L517.9,281.6 L518.4,280.4 L518.9,279.1 L519.4,277.7 L519.9,276.1 L520.4,274.5 L520.9,272.7 L521.4,271.0 L521.9,269.3 L522.4,267.6 L522.9,266.0 L523.4,264.6 L523.9,263.2 L524.4,262.1 L524.9,260.9 L525.4,259.9 L525.9,258.9 L526.4,257.9 L526.9,257.0 L527.4,256.2 L527.9,255.5 L528.4,254.8 L528.9,254.1 L529.4,253.6 L529.9,253.1 L530.4,252.7 L530.9,252.3 L531.4,252.0 L531.9,251.8 L532.4,251.6 L532.9,251.5 L533.4,251.5 L533.9,251.5 L534.4,251.6 L534.9,251.8 L535.4,252.0 L535.9,252.3 L536.4,252.7 L536.9,253.3 L537.4,253.9 L537.9,254.6 L538.4,255.6 L538.9,256.8 L539.4,258.2 L539.9,259.6 L540.4,261.1 L540.9,262.5 L541.4,264.0 L541.9,265.3 L542.4,266.6 L542.9,268.0 L543.4,269.3 L543.9,270.6 L544.4,271.8 L544.9,273.0 L545.4,274.0 L545.9,274.9 L546.4,275.7 L546.9,276.3 L547.4,276.8 L547.9,277.0 L548.4,277.0 L548.9,276.8 L549.4,276.5 L549.9,276.0 L550.4,275.4 L550.9,274.6 L551.4,273.8 L551.9,272.8 L552.4,271.8 L552.9,270.8 L553.4,269.7 L553.9,268.5 L554.4,267.4 L554.9,266.3 L555.4,265.2 L555.9,264.2 L556.4,263.2 L556.9,262.2 L557.4,261.2 L557.9,260.2 L558.4,259.2 L558.9,258.3 L559.4,257.4 L559.9,256.6 L560.4,255.9 L560.9,255.3 L561.4,254.9 L561.9,254.5 L562.4,254.3 L562.9,254.2 L563.4,254.1 L563.9,254.1 L564.4,254.1 L564.9,254.1 L565.4,254.2 L565.9,254.3 L566.4,254.5 L566.9,254.7 L567.4,254.9 L567.9,255.1 L568.4,255.4 L568.9,255.6 L569.4,255.9 L569.9,256.1 L570.4,256.4 L570.9,256.7 L571.4,257.0 L571.9,257.3 L572.4,257.5 L572.9,257.8 L573.4,258.0 L573.9,258.1 L574.4,258.2 L574.9,258.2 L575.4,258.2 L575.9,258.0 L576.4,257.8 L576.9,257.4 L577.4,256.8 L577.9,256.1 L578.4,255.4 L578.9,254.6 L579.4,253.7 L579.9,252.9 L580.4,252.1 L580.9,251.4 L581.4,250.7 L581.9,250.0 L582.4,249.3 L582.9,248.7 L583.4,248.0 L583.9,247.3 L584.4,246.7 L584.9,246.1 L585.4,245.5 L585.9,244.9 L586.4,244.3 L586.9,243.7 L587.4,243.2 L587.9,242.6 L588.4,242.1 L588.9,241.6 L589.4,241.1 L589.9,240.6 L590.4,240.1 L590.9,239.7 L591.4,239.2 L591.9,238.7 L592.4,238.3 L592.9,237.9 L593.4,237.4 L593.9,237.0 L594.4,236.6 L594.9,236.2 L595.4,235.8 L595.9,235.4 L596.4,235.0 L596.9,234.7 L597.4,234.3 L597.9,233.9 L598.4,233.6 L598.9,233.3 L599.4,233.0 L599.9,232.7 L600.4,232.4 L600.9,232.1 L601.4,231.8 L601.9,231.5 L602.4,231.3 L602.9,231.1 L603.4,230.8 L603.9,230.6 L604.4,230.4 L604.9,230.2 L605.4,230.0 L605.9,229.9 L606.4,229.7 L606.9,229.6 L607.4,229.5 L607.9,229.5 L608.4,229.5 L608.9,229.5 L609.4,229.6 L609.9,229.7 L610.4,229.9 L610.9,230.1 L611.4,230.3 L611.9,230.5 L612.4,230.7 L612.9,231.0 L613.4,231.3 L613.9,231.5 L614.4,231.8 L614.9,232.1 L615.4,232.3 L615.9,232.5 L616.4,232.8 L616.9,233.0 L617.4,233.2 L617.9,233.4 L618.4,233.6 L618.9,233.8 L619.4,233.9 L619.9,233.9 L620.4,233.9 L620.9,233.8 L621.4,233.7 L621.9,233.4 L622.4,233.0 L622.9,232.5 L623.4,231.8 L623.9,231.1 L624.4,230.3 L624.9,229.4 L625.4,228.4 L625.9,227.3 L626.4,226.2 L626.9,225.0 L627.4,223.8 L627.9,222.5 L628.4,221.0 L628.9,219.5 L629.4,217.8 L629.9,216.1 L630.4,214.3 L630.9,212.5 L631.4,210.8 L631.9,209.0 L632.4,207.3 L632.9,205.5 L633.4,203.6 L633.9,201.9 L634.4,200.1 L634.9,198.4 L635.4,196.7 L635.9,195.1 L636.4,193.6 L636.9,192.2 L637.4,190.9 L637.9,189.7 L638.4,188.7 L638.9,187.7 L639.4,186.8 L639.9,185.9 L640.4,185.2 L640.9,184.4 L641.4,183.8 L641.9,183.2 L642.4,182.7 L642.9,182.3 L643.4,181.9 L643.9,181.6 L644.4,181.3 L644.9,181.0 L645.4,180.8 L645.9,180.6 L646.4,180.4 L646.9,180.3 L647.4,180.2 L647.9,180.1 L648.4,180.0 L648.9,180.0 L649.4,180.3 L649.9,180.8 L650.4,181.6 L650.9,182.8 L651.4,184.4 L651.9,186.5 L652.4,189.0 L652.9,191.6 L653.4,194.0 L653.9,195.9 L654.4,197.1 L654.9,197.2 L655.4,196.0 L655.9,192.3 L656.4,186.4 L656.9,180.0 L657.4,174.1 L657.9,168.7" stroke="#e01a10" stroke-width="1.75"/>
<path d="M217.4,379.0 L217.9,368.6 L218.4,358.2 L218.9,348.0 L219.4,338.1 L219.9,328.9 L220.4,321.3 L220.9,315.6 L221.4,311.1 L221.9,307.5 L222.4,304.1 L222.9,300.5 L223.4,296.1 L223.9,290.9 L224.4,285.5 L224.9,280.8 L225.4,277.3 L225.9,274.5 L226.4,272.4 L226.9,271.1 L227.4,270.5 L227.9,270.7 L228.4,271.4 L228.9,272.5 L229.4,273.8 L229.9,275.4 L230.4,276.9 L230.9,278.4 L231.4,279.7 L231.9,280.8 L232.4,281.4 L232.9,281.5 L233.4,280.9 L233.9,279.7 L234.4,278.0 L234.9,275.9 L235.4,273.5 L235.9,270.9 L236.4,268.2 L236.9,265.5 L237.4,262.9 L237.9,260.1 L238.4,257.2 L238.9,254.5 L239.4,251.9 L239.9,249.7 L240.4,247.8 L240.9,246.4 L241.4,245.7 L241.9,245.7 L242.4,246.3 L242.9,247.5 L243.4,249.2 L243.9,251.3 L244.4,253.6 L244.9,256.0 L245.4,258.5 L245.9,261.0 L246.4,263.7 L246.9,266.5 L247.4,269.1 L247.9,271.6 L248.4,273.9 L248.9,275.8 L249.4,277.2 L249.9,278.1 L250.4,278.3 L250.9,277.6 L251.4,275.9 L251.9,273.3 L252.4,270.0 L252.9,266.2 L253.4,262.0 L253.9,257.8 L254.4,253.8 L254.9,249.9 L255.4,246.0 L255.9,242.1 L256.4,238.5 L256.9,235.3 L257.4,232.5 L257.9,230.2 L258.4,228.1 L258.9,226.3 L259.4,224.9 L259.9,223.8 L260.4,223.1 L260.9,222.8 L261.4,223.0 L261.9,223.5 L262.4,224.4 L262.9,225.4 L263.4,226.6 L263.9,227.8 L264.4,228.9 L264.9,230.0 L265.4,230.8 L265.9,231.4 L266.4,231.7 L266.9,231.8 L267.4,231.8 L267.9,231.7 L268.4,231.6 L268.9,231.4 L269.4,231.2 L269.9,231.0 L270.4,230.9 L270.9,230.9 L271.4,231.0 L271.9,231.1 L272.4,231.2 L272.9,231.4 L273.4,231.7 L273.9,231.9 L274.4,232.3 L274.9,232.7 L275.4,233.2 L275.9,233.7 L276.4,234.3 L276.9,234.9 L277.4,235.4 L277.9,235.9 L278.4,236.4 L278.9,236.8 L279.4,237.2 L279.9,237.4 L280.4,237.4 L280.9,237.1 L281.4,236.4 L281.9,235.0 L282.4,233.2 L282.9,230.8 L283.4,228.2 L283.9,225.4 L284.4,222.5 L284.9,219.6 L285.4,216.7 L285.9,213.7 L286.4,210.5 L286.9,207.5 L287.4,204.4 L287.9,201.6 L288.4,199.0 L288.9,196.7 L289.4,194.9 L289.9,193.5 L290.4,192.7 L290.9,192.5 L291.4,193.1 L291.9,194.3 L292.4,196.0 L292.9,198.0 L293.4,200.1 L293.9,202.2 L294.4,204.4 L294.9,206.7 L295.4,209.1 L295.9,211.6 L296.4,214.2 L296.9,216.9 L297.4,219.8 L297.9,222.6 L298.4,225.2 L298.9,227.6 L299.4,229.7 L299.9,231.6 L300.4,233.3 L300.9,234.7 L301.4,235.7 L301.9,236.2 L302.4,236.1 L302.9,235.4 L303.4,234.3 L303.9,232.9 L304.4,231.1 L304.9,229.2 L305.4,227.3 L305.9,225.4 L306.4,223.5 L306.9,221.6 L307.4,219.7 L307.9,217.9 L308.4,216.2 L308.9,214.6 L309.4,213.3 L309.9,212.2 L310.4,211.5 L310.9,211.1 L311.4,211.2 L311.9,211.8 L312.4,212.7 L312.9,214.1 L313.4,215.7 L313.9,217.6 L314.4,219.6 L314.9,221.6 L315.4,223.6 L315.9,225.6 L316.4,227.5 L316.9,229.5 L317.4,231.4 L317.9,233.2 L318.4,235.0 L318.9,236.5 L319.4,237.9 L319.9,239.0 L320.4,239.8 L320.9,240.2 L321.4,240.1 L321.9,239.7 L322.4,239.0 L322.9,238.0 L323.4,236.8 L323.9,235.4 L324.4,233.9 L324.9,232.3 L325.4,230.8 L325.9,229.3 L326.4,227.9 L326.9,226.4 L327.4,225.0 L327.9,223.7 L328.4,222.3 L328.9,221.1 L329.4,220.0 L329.9,219.0 L330.4,218.1 L330.9,217.4 L331.4,216.9 L331.9,216.6 L332.4,216.6 L332.9,216.8 L333.4,217.2 L333.9,217.7 L334.4,218.3 L334.9,218.9 L335.4,219.5 L335.9,220.1 L336.4,220.5 L336.9,220.7 L337.4,220.7 L337.9,220.5 L338.4,220.1 L338.9,219.6 L339.4,219.0 L339.9,218.3 L340.4,217.5 L340.9,216.7 L341.4,215.9 L341.9,215.0 L342.4,214.3 L342.9,213.6 L343.4,213.0 L343.9,212.5 L344.4,212.2 L344.9,212.0 L345.4,212.1 L345.9,212.3 L346.4,212.8 L346.9,213.4 L347.4,214.2 L347.9,215.2 L348.4,216.2 L348.9,217.4 L349.4,218.7 L349.9,220.0 L350.4,221.4 L350.9,222.8 L351.4,224.2 L351.9,225.6 L352.4,227.0 L352.9,228.4 L353.4,229.9 L353.9,231.3 L354.4,232.7 L354.9,234.0 L355.4,235.2 L355.9,236.2 L356.4,236.9 L356.9,237.4 L357.4,237.5 L357.9,237.3 L358.4,236.7 L358.9,235.7 L359.4,234.5 L359.9,233.0 L360.4,231.3 L360.9,229.6 L361.4,227.7 L361.9,225.9 L362.4,224.1 L362.9,222.3 L363.4,220.7 L363.9,219.0 L364.4,217.4 L364.9,215.9 L365.4,214.4 L365.9,213.1 L366.4,212.0 L366.9,211.1 L367.4,210.4 L367.9,210.0 L368.4,210.0 L368.9,210.3 L369.4,211.1 L369.9,212.2 L370.4,213.5 L370.9,215.2 L371.4,217.0 L371.9,219.0 L372.4,221.1 L372.9,223.2 L373.4,225.4 L373.9,227.6 L374.4,229.7 L374.9,232.0 L375.4,234.2 L375.9,236.5 L376.4,238.7 L376.9,240.7 L377.4,242.5 L377.9,244.0 L378.4,245.3 L378.9,246.1 L379.4,246.5 L379.9,246.4 L380.4,245.7 L380.9,244.5 L381.4,242.7 L381.9,240.6 L382.4,238.2 L382.9,235.6 L383.4,233.0 L383.9,230.3 L384.4,227.8 L384.9,225.4 L385.4,223.3 L385.9,221.2 L386.4,219.3 L386.9,217.4 L387.4,215.6 L387.9,214.0 L388.4,212.4 L388.9,211.1 L389.4,209.9 L389.9,208.9 L390.4,208.0 L390.9,207.4 L391.4,207.0 L391.9,206.9 L392.4,207.0 L392.9,207.4 L393.4,208.1 L393.9,209.1 L394.4,210.3 L394.9,211.7 L395.4,213.1 L395.9,214.7 L396.4,216.2 L396.9,217.7 L397.4,219.2 L397.9,220.7 L398.4,222.3 L398.9,223.7 L399.4,225.0 L399.9,226.0 L400.4,226.7 L400.9,227.0 L401.4,227.0 L401.9,226.6 L402.4,226.0 L402.9,225.2 L403.4,224.2 L403.9,223.1 L404.4,221.9 L404.9,220.6 L405.4,219.4 L405.9,218.2 L406.4,217.1 L406.9,216.0 L407.4,214.9 L407.9,213.8 L408.4,212.9 L408.9,212.1 L409.4,211.4 L409.9,210.9 L410.4,210.7 L410.9,210.6 L411.4,210.8 L411.9,211.4 L412.4,212.4 L412.9,213.8 L413.4,215.7 L413.9,217.8 L414.4,220.1 L414.9,222.7 L415.4,225.3 L415.9,228.1 L416.4,230.8 L416.9,233.4 L417.4,236.0 L417.9,238.3 L418.4,240.7 L418.9,243.0 L419.4,245.3 L419.9,247.5 L420.4,249.5 L420.9,251.4 L421.4,253.1 L421.9,254.6 L422.4,255.8 L422.9,256.7 L423.4,257.3 L423.9,257.5 L424.4,257.3 L424.9,256.8 L425.4,256.0 L425.9,255.0 L426.4,253.8 L426.9,252.6 L427.4,251.4 L427.9,250.2 L428.4,249.1 L428.9,248.0 L429.4,247.0 L429.9,246.0 L430.4,245.1 L430.9,244.3 L431.4,243.6 L431.9,243.0 L432.4,242.7 L432.9,242.5 L433.4,242.6 L433.9,242.9 L434.4,243.5 L434.9,244.4 L435.4,245.5 L435.9,246.8 L436.4,248.3 L436.9,249.9 L437.4,251.6 L437.9,253.3 L438.4,255.1 L438.9,256.9 L439.4,258.6 L439.9,260.2 L440.4,261.7 L440.9,263.1 L441.4,264.5 L441.9,265.8 L442.4,267.1 L442.9,268.2 L443.4,269.3 L443.9,270.2 L444.4,270.9 L444.9,271.5 L445.4,271.9 L445.9,272.0 L446.4,271.9 L446.9,271.6 L447.4,271.0 L447.9,270.3 L448.4,269.5 L448.9,268.5 L449.4,267.5 L449.9,266.4 L450.4,265.3 L450.9,264.2 L451.4,263.1 L451.9,262.0 L452.4,260.9 L452.9,259.7 L453.4,258.7 L453.9,257.7 L454.4,256.8 L454.9,256.1 L455.4,255.6 L455.9,255.3 L456.4,255.3 L456.9,255.5 L457.4,256.1 L457.9,257.0 L458.4,258.2 L458.9,259.7 L459.4,261.3 L459.9,263.1 L460.4,265.0 L460.9,267.0 L461.4,269.0 L461.9,271.1 L462.4,273.2 L462.9,275.2 L463.4,277.4 L463.9,279.6 L464.4,281.7 L464.9,283.9 L465.4,286.0 L465.9,287.9 L466.4,289.7 L466.9,291.2 L467.4,292.4 L467.9,293.3 L468.4,293.9 L468.9,294.0 L469.4,293.7 L469.9,292.9 L470.4,291.7 L470.9,290.1 L471.4,288.3 L471.9,286.1 L472.4,283.8 L472.9,281.4 L473.4,278.8 L473.9,276.2 L474.4,273.6 L474.9,271.0 L475.4,268.3 L475.9,265.5 L476.4,262.6 L476.9,259.6 L477.4,256.6 L477.9,253.6 L478.4,250.5 L478.9,247.4 L479.4,244.4 L479.9,241.2 L480.4,237.9 L480.9,234.7 L481.4,231.6 L481.9,228.7 L482.4,226.3 L482.9,224.3 L483.4,223.0 L483.9,222.5 L484.4,222.8 L484.9,223.7 L485.4,225.2 L485.9,227.2 L486.4,229.5 L486.9,232.1 L487.4,234.8 L487.9,237.4 L488.4,240.0 L488.9,242.4 L489.4,244.7 L489.9,247.0 L490.4,249.2 L490.9,251.2 L491.4,253.2 L491.9,255.1 L492.4,256.9 L492.9,258.7 L493.4,260.5 L493.9,262.4 L494.4,264.3 L494.9,266.4 L495.4,268.5 L495.9,270.5 L496.4,272.5 L496.9,274.3 L497.4,275.9 L497.9,277.2 L498.4,278.1 L498.9,278.7 L499.4,278.9 L499.9,278.8 L500.4,278.6 L500.9,278.2 L501.4,277.6 L501.9,276.9 L502.4,276.1 L502.9,275.3 L503.4,274.4 L503.9,273.6 L504.4,272.8 L504.9,272.1 L505.4,271.5 L505.9,271.1 L506.4,270.8 L506.9,270.7 L507.4,270.8 L507.9,271.2 L508.4,271.7 L508.9,272.4 L509.4,273.2 L509.9,274.1 L510.4,275.1 L510.9,276.1 L511.4,277.1 L511.9,278.2 L512.4,279.2 L512.9,280.2 L513.4,281.1 L513.9,281.9 L514.4,282.5 L514.9,283.0 L515.4,283.4 L515.9,283.5 L516.4,283.5 L516.9,283.1 L517.4,282.5 L517.9,281.6 L518.4,280.4 L518.9,279.1 L519.4,277.7 L519.9,276.1 L520.4,274.5 L520.9,272.7 L521.4,271.0 L521.9,269.3 L522.4,267.6 L522.9,266.0 L523.4,264.6 L523.9,263.2 L524.4,262.1 L524.9,260.9 L525.4,259.9 L525.9,258.9 L526.4,257.9 L526.9,257.0 L527.4,256.2 L527.9,255.5 L528.4,254.8 L528.9,254.1 L529.4,253.6 L529.9,253.1 L530.4,252.7 L530.9,252.3 L531.4,252.0 L531.9,251.8 L532.4,251.6 L532.9,251.5 L533.4,251.5 L533.9,251.5 L534.4,251.6 L534.9,251.8 L535.4,252.0 L535.9,252.3 L536.4,252.7 L536.9,253.3 L537.4,253.9 L537.9,254.6 L538.4,255.6 L538.9,256.8 L539.4,258.2 L539.9,259.6 L540.4,261.1 L540.9,262.5 L541.4,264.0 L541.9,265.3 L542.4,266.7 L542.9,268.0 L543.4,269.3 L543.9,270.6 L544.4,271.8 L544.9,273.0 L545.4,274.0 L545.9,274.9 L546.4,275.7 L546.9,276.3 L547.4,276.8 L547.9,277.0 L548.4,277.0 L548.9,276.8 L549.4,276.5 L549.9,276.0 L550.4,275.3 L550.9,274.6 L551.4,273.7 L551.9,272.8 L552.4,271.8 L552.9,270.7 L553.4,269.6 L553.9,268.5 L554.4,267.4 L554.9,266.3 L555.4,265.2 L555.9,264.2 L556.4,263.2 L556.9,262.2 L557.4,261.2 L557.9,260.2 L558.4,259.2 L558.9,258.3 L559.4,257.4 L559.9,256.6 L560.4,255.9 L560.9,255.4 L561.4,254.9 L561.9,254.5 L562.4,254.3 L562.9,254.2 L563.4,254.1 L563.9,254.0 L564.4,254.0 L564.9,254.0 L565.4,254.1 L565.9,254.1 L566.4,254.3 L566.9,254.4 L567.4,254.6 L567.9,254.8 L568.4,255.0 L568.9,255.3 L569.4,255.5 L569.9,255.7 L570.4,256.0 L570.9,256.3 L571.4,256.6 L571.9,256.9 L572.4,257.1 L572.9,257.3 L573.4,257.5 L573.9,257.7 L574.4,257.8 L574.9,257.8 L575.4,257.8 L575.9,257.6 L576.4,257.4 L576.9,256.9 L577.4,256.4 L577.9,255.7 L578.4,254.9 L578.9,254.1 L579.4,253.3 L579.9,252.4 L580.4,251.6 L580.9,250.9 L581.4,250.2 L581.9,249.5 L582.4,248.8 L582.9,248.1 L583.4,247.5 L583.9,246.8 L584.4,246.2 L584.9,245.6 L585.4,245.0 L585.9,244.4 L586.4,243.8 L586.9,243.2 L587.4,242.7 L587.9,242.1 L588.4,241.6 L588.9,241.1 L589.4,240.6 L589.9,240.1 L590.4,239.6 L590.9,239.2 L591.4,238.7 L591.9,238.2 L592.4,237.8 L592.9,237.3 L593.4,236.9 L593.9,236.5 L594.4,236.1 L594.9,235.6 L595.4,235.2 L595.9,234.8 L596.4,234.5 L596.9,234.1 L597.4,233.7 L597.9,233.4 L598.4,233.0 L598.9,232.7 L599.4,232.4 L599.9,232.1 L600.4,231.8 L600.9,231.5 L601.4,231.3 L601.9,231.0 L602.4,230.8 L602.9,230.6 L603.4,230.4 L603.9,230.2 L604.4,230.0 L604.9,229.8 L605.4,229.7 L605.9,229.6 L606.4,229.4 L606.9,229.4 L607.4,229.3 L607.9,229.3 L608.4,229.3 L608.9,229.4 L609.4,229.5 L609.9,229.6 L610.4,229.8 L610.9,230.0 L611.4,230.2 L611.9,230.4 L612.4,230.7 L612.9,230.9 L613.4,231.2 L613.9,231.4 L614.4,231.6 L614.9,231.8 L615.4,232.0 L615.9,232.1 L616.4,232.3 L616.9,232.4 L617.4,232.5 L617.9,232.6 L618.4,232.7 L618.9,232.7 L619.4,232.7 L619.9,232.7 L620.4,232.7 L620.9,232.6 L621.4,232.4 L621.9,232.3 L622.4,232.1 L622.9,231.7 L623.4,231.3 L623.9,230.7 L624.4,229.9 L624.9,229.0 L625.4,228.0 L625.9,226.9 L626.4,225.7 L626.9,224.5 L627.4,223.1 L627.9,221.7 L628.4,220.2 L628.9,218.5 L629.4,216.7 L629.9,214.8 L630.4,213.0 L630.9,211.1 L631.4,209.3 L631.9,207.5 L632.4,205.6 L632.9,203.8 L633.4,202.0 L633.9,200.2 L634.4,198.4 L634.9,196.7 L635.4,195.1 L635.9,193.5 L636.4,192.0 L636.9,190.6 L637.4,189.4 L637.9,188.2 L638.4,187.2 L638.9,186.2 L639.4,185.3 L639.9,184.5 L640.4,183.8 L640.9,183.1 L641.4,182.5 L641.9,181.9 L642.4,181.4 L642.9,180.9 L643.4,180.5 L643.9,180.1 L644.4,179.7 L644.9,179.4 L645.4,179.1 L645.9,178.8 L646.4,178.5 L646.9,178.3 L647.4,178.2 L647.9,178.1 L648.4,178.0 L648.9,178.1 L649.4,178.4 L649.9,179.0 L650.4,180.0 L650.9,181.3 L651.4,183.0 L651.9,185.2 L652.4,187.9 L652.9,190.6 L653.4,193.1 L653.9,195.2 L654.4,196.4 L654.9,196.7 L655.4,195.5 L655.9,191.8 L656.4,185.9 L656.9,179.5 L657.4,173.6 L657.9,168.2" stroke="#000" stroke-width="1.75"/>
<path d="M217.5,373.6 L218.0,360.7 L218.5,348.8 L219.0,337.7 L219.5,327.5 L220.0,318.2 L220.5,309.9 L221.0,302.3 L221.5,295.3 L222.0,288.5 L222.5,282.0 L223.0,275.7 L223.5,269.6 L224.0,263.8 L224.5,258.2 L225.0,253.1 L225.5,248.7 L226.0,244.9 L226.5,241.7 L227.0,239.7 L227.5,239.1 L228.0,239.8 L228.5,241.3 L229.0,243.4 L229.5,245.9 L230.0,248.5 L230.5,251.2 L231.0,253.9 L231.5,256.6 L232.0,259.0 L232.5,261.0 L233.0,262.3 L233.5,263.0 L234.0,262.7 L234.5,261.4 L235.0,259.3 L235.5,256.6 L236.0,253.4 L236.5,250.0 L237.0,246.5 L237.5,242.8 L238.0,238.8 L238.5,234.8 L239.0,230.9 L239.5,227.4 L240.0,224.4 L240.5,222.2 L241.0,221.0 L241.5,221.0 L242.0,222.0 L242.5,224.0 L243.0,226.7 L243.5,230.0 L244.0,233.7 L244.5,237.5 L245.0,241.3 L245.5,245.1 L246.0,249.0 L246.5,253.0 L247.0,256.9 L247.5,260.6 L248.0,264.0 L248.5,267.0 L249.0,269.5 L249.5,271.3 L250.0,272.4 L250.5,272.7 L251.0,272.0 L251.5,270.1 L252.0,267.4 L252.5,264.0 L253.0,260.1 L253.5,256.0 L254.0,251.9 L254.5,247.8 L255.0,243.5 L255.5,238.9 L256.0,234.1 L256.5,228.8 L257.0,223.4 L257.5,217.9 L258.0,212.7 L258.5,208.2 L259.0,204.1 L259.5,200.4 L260.0,197.2 L260.5,194.6 L261.0,192.8 L261.5,191.7 L262.0,191.3 L262.5,191.4 L263.0,191.9 L263.5,192.7 L264.0,193.6 L264.5,194.7 L265.0,195.9 L265.5,197.2 L266.0,198.4 L266.5,199.5 L267.0,200.4 L267.5,201.2 L268.0,202.0 L268.5,202.6 L269.0,203.1 L269.5,203.6 L270.0,204.0 L270.5,204.4 L271.0,204.8 L271.5,205.2 L272.0,205.7 L272.5,206.3 L273.0,207.0 L273.5,208.0 L274.0,209.1 L274.5,210.5 L275.0,211.9 L275.5,213.5 L276.0,215.1 L276.5,216.7 L277.0,218.3 L277.5,220.0 L278.0,221.7 L278.5,223.4 L279.0,224.9 L279.5,226.2 L280.0,227.3 L280.5,228.0 L281.0,228.2 L281.5,227.9 L282.0,226.9 L282.5,225.3 L283.0,223.1 L283.5,220.6 L284.0,217.8 L284.5,215.0 L285.0,212.2 L285.5,209.4 L286.0,206.5 L286.5,203.5 L287.0,200.6 L287.5,197.8 L288.0,195.3 L288.5,193.0 L289.0,191.1 L289.5,189.6 L290.0,188.7 L290.5,188.4 L291.0,188.8 L291.5,190.2 L292.0,192.5 L292.5,195.3 L293.0,198.4 L293.5,201.4 L294.0,204.2 L294.5,207.1 L295.0,210.0 L295.5,212.8 L296.0,215.5 L296.5,218.1 L297.0,220.6 L297.5,223.0 L298.0,225.4 L298.5,227.8 L299.0,230.4 L299.5,233.4 L300.0,237.0 L300.5,241.2 L301.0,245.6 L301.5,249.7 L302.0,253.2 L302.5,255.7 L303.0,256.6 L303.5,256.4 L304.0,255.3 L304.5,253.4 L305.0,250.9 L305.5,248.1 L306.0,245.0 L306.5,241.9 L307.0,238.9 L307.5,236.1 L308.0,233.4 L308.5,230.8 L309.0,228.5 L309.5,226.6 L310.0,225.1 L310.5,224.1 L311.0,223.8 L311.5,224.2 L312.0,225.3 L312.5,227.0 L313.0,229.3 L313.5,232.0 L314.0,234.9 L314.5,238.1 L315.0,241.3 L315.5,244.4 L316.0,247.4 L316.5,250.4 L317.0,253.4 L317.5,256.4 L318.0,259.2 L318.5,261.9 L319.0,264.2 L319.5,266.1 L320.0,267.6 L320.5,268.4 L321.0,268.6 L321.5,268.0 L322.0,266.9 L322.5,265.3 L323.0,263.4 L323.5,261.1 L324.0,258.6 L324.5,256.1 L325.0,253.4 L325.5,250.9 L326.0,248.5 L326.5,246.2 L327.0,244.0 L327.5,241.7 L328.0,239.6 L328.5,237.6 L329.0,235.7 L329.5,234.0 L330.0,232.4 L330.5,231.1 L331.0,230.0 L331.5,229.2 L332.0,228.8 L332.5,228.6 L333.0,228.8 L333.5,229.2 L334.0,229.9 L334.5,230.7 L335.0,231.5 L335.5,232.4 L336.0,233.1 L336.5,233.7 L337.0,234.0 L337.5,234.1 L338.0,233.8 L338.5,233.2 L339.0,232.3 L339.5,231.2 L340.0,229.9 L340.5,228.4 L341.0,226.9 L341.5,225.4 L342.0,223.9 L342.5,222.6 L343.0,221.4 L343.5,220.6 L344.0,220.0 L344.5,219.9 L345.0,220.1 L345.5,220.7 L346.0,221.6 L346.5,222.9 L347.0,224.4 L347.5,226.1 L348.0,228.0 L348.5,230.0 L349.0,232.1 L349.5,234.2 L350.0,236.3 L350.5,238.3 L351.0,240.3 L351.5,242.3 L352.0,244.3 L352.5,246.2 L353.0,248.0 L353.5,249.7 L354.0,251.3 L354.5,252.7 L355.0,253.9 L355.5,254.9 L356.0,255.5 L356.5,255.9 L357.0,256.0 L357.5,255.6 L358.0,254.7 L358.5,253.1 L359.0,251.0 L359.5,248.5 L360.0,245.5 L360.5,242.2 L361.0,238.8 L361.5,235.2 L362.0,231.5 L362.5,227.9 L363.0,224.4 L363.5,220.9 L364.0,217.3 L364.5,213.7 L365.0,210.2 L365.5,206.8 L366.0,203.7 L366.5,201.0 L367.0,198.8 L367.5,197.1 L368.0,196.2 L368.5,195.9 L369.0,196.5 L369.5,197.7 L370.0,199.5 L370.5,201.9 L371.0,204.6 L371.5,207.7 L372.0,210.9 L372.5,214.4 L373.0,217.8 L373.5,221.2 L374.0,224.5 L374.5,227.7 L375.0,231.0 L375.5,234.2 L376.0,237.4 L376.5,240.4 L377.0,243.2 L377.5,245.6 L378.0,247.7 L378.5,249.3 L379.0,250.4 L379.5,251.0 L380.0,250.8 L380.5,249.9 L381.0,248.3 L381.5,246.2 L382.0,243.6 L382.5,240.8 L383.0,237.8 L383.5,234.7 L384.0,231.7 L384.5,228.7 L385.0,225.6 L385.5,222.5 L386.0,219.3 L386.5,216.2 L387.0,213.0 L387.5,210.0 L388.0,207.0 L388.5,204.0 L389.0,201.0 L389.5,198.0 L390.0,195.1 L390.5,192.3 L391.0,189.9 L391.5,187.7 L392.0,186.0 L392.5,184.7 L393.0,184.0 L393.5,183.9 L394.0,184.2 L394.5,185.0 L395.0,186.0 L395.5,187.2 L396.0,188.5 L396.5,189.9 L397.0,191.4 L397.5,192.7 L398.0,193.9 L398.5,194.8 L399.0,195.3 L399.5,195.4 L400.0,194.9 L400.5,193.7 L401.0,191.9 L401.5,189.5 L402.0,186.7 L402.5,183.7 L403.0,180.4 L403.5,177.1 L404.0,173.9 L404.5,170.9 L405.0,168.1 L405.5,165.5 L406.0,163.0 L406.5,160.5 L407.0,158.1 L407.5,155.7 L408.0,153.5 L408.5,151.4 L409.0,149.6 L409.5,147.9 L410.0,146.5 L410.5,145.3 L411.0,144.5 L411.5,143.9 L412.0,143.8 L412.5,143.9 L413.0,144.4 L413.5,145.2 L414.0,146.0 L414.5,147.0 L415.0,148.1 L415.5,149.3 L416.0,150.5 L416.5,151.8 L417.0,153.1 L417.5,154.4 L418.0,155.8 L418.5,157.3 L419.0,158.8 L419.5,160.2 L420.0,161.5 L420.5,162.7 L421.0,163.7 L421.5,164.4 L422.0,164.9 L422.5,165.0 L423.0,164.8 L423.5,164.1 L424.0,162.9 L424.5,161.4 L425.0,159.5 L425.5,157.4 L426.0,155.1 L426.5,152.7 L427.0,150.4 L427.5,148.2 L428.0,146.1 L428.5,144.1 L429.0,142.1 L429.5,140.2 L430.0,138.3 L430.5,136.6 L431.0,135.1 L431.5,133.8 L432.0,132.9 L432.5,132.6 L433.0,132.9 L433.5,133.9 L434.0,135.7 L434.5,138.2 L435.0,141.0 L435.5,144.0 L436.0,147.0 L436.5,149.9 L437.0,152.7 L437.5,155.3 L438.0,158.3 L438.5,161.9 L439.0,166.5 L439.5,172.4 L440.0,180.1 L440.5,187.7 L441.0,194.2 L441.5,200.1 L442.0,205.5 L442.5,210.2 L443.0,214.3 L443.5,217.9 L444.0,220.8 L444.5,223.2 L445.0,225.4 L445.5,227.3 L446.0,229.0 L446.5,230.4 L447.0,231.5 L447.5,232.3 L448.0,232.9 L448.5,233.1 L449.0,233.1 L449.5,232.9 L450.0,232.6 L450.5,232.0 L451.0,231.4 L451.5,230.7 L452.0,229.9 L452.5,229.2 L453.0,228.6 L453.5,228.1 L454.0,227.8 L454.5,227.7 L455.0,227.8 L455.5,228.0 L456.0,228.6 L456.5,229.5 L457.0,230.8 L457.5,232.3 L458.0,234.0 L458.5,236.0 L459.0,238.2 L459.5,240.6 L460.0,243.1 L460.5,245.8 L461.0,248.4 L461.5,251.1 L462.0,253.9 L462.5,256.7 L463.0,259.6 L463.5,262.5 L464.0,265.4 L464.5,268.4 L465.0,271.4 L465.5,274.5 L466.0,277.6 L466.5,280.5 L467.0,283.2 L467.5,285.5 L468.0,287.2 L468.5,288.4 L469.0,288.8 L469.5,288.4 L470.0,287.3 L470.5,285.5 L471.0,283.2 L471.5,280.5 L472.0,277.4 L472.5,273.9 L473.0,270.3 L473.5,266.5 L474.0,262.6 L474.5,258.8 L475.0,255.0 L475.5,251.3 L476.0,247.4 L476.5,243.4 L477.0,239.2 L477.5,234.9 L478.0,230.5 L478.5,225.9 L479.0,221.3 L479.5,216.7 L480.0,212.0 L480.5,207.0 L481.0,202.2 L481.5,197.5 L482.0,193.2 L482.5,189.6 L483.0,186.7 L483.5,184.8 L484.0,184.1 L484.5,184.5 L485.0,185.9 L485.5,188.3 L486.0,191.4 L486.5,195.1 L487.0,199.2 L487.5,203.7 L488.0,208.4 L488.5,213.0 L489.0,217.5 L489.5,221.9 L490.0,226.3 L490.5,230.7 L491.0,235.1 L491.5,239.4 L492.0,243.5 L492.5,247.4 L493.0,250.9 L493.5,254.1 L494.0,256.9 L494.5,259.6 L495.0,262.1 L495.5,264.4 L496.0,266.5 L496.5,268.3 L497.0,269.8 L497.5,270.9 L498.0,271.8 L498.5,272.3 L499.0,272.4 L499.5,272.3 L500.0,272.0 L500.5,271.5 L501.0,270.9 L501.5,270.1 L502.0,269.3 L502.5,268.4 L503.0,267.5 L503.5,266.7 L504.0,265.8 L504.5,265.0 L505.0,264.4 L505.5,263.8 L506.0,263.4 L506.5,263.2 L507.0,263.2 L507.5,263.5 L508.0,264.0 L508.5,264.6 L509.0,265.4 L509.5,266.3 L510.0,267.3 L510.5,268.4 L511.0,269.6 L511.5,270.8 L512.0,272.0 L512.5,273.1 L513.0,274.2 L513.5,275.3 L514.0,276.2 L514.5,277.0 L515.0,277.6 L515.5,278.1 L516.0,278.3 L516.5,278.4 L517.0,278.1 L517.5,277.5 L518.0,276.6 L518.5,275.3 L519.0,273.9 L519.5,272.2 L520.0,270.3 L520.5,268.3 L521.0,266.2 L521.5,264.0 L522.0,261.7 L522.5,259.5 L523.0,257.2 L523.5,255.1 L524.0,253.0 L524.5,251.0 L525.0,248.9 L525.5,246.9 L526.0,245.0 L526.5,243.2 L527.0,241.5 L527.5,240.0 L528.0,238.6 L528.5,237.3 L529.0,236.2 L529.5,235.3 L530.0,234.7 L530.5,234.3 L531.0,234.0 L531.5,233.9 L532.0,233.8 L532.5,233.8 L533.0,233.7 L533.5,233.7 L534.0,233.6 L534.5,233.6 L535.0,233.6 L535.5,233.7 L536.0,234.0 L536.5,234.5 L537.0,235.5 L537.5,236.9 L538.0,238.8 L538.5,240.9 L539.0,243.2 L539.5,245.6 L540.0,248.1 L540.5,250.8 L541.0,253.4 L541.5,255.9 L542.0,258.2 L542.5,260.4 L543.0,262.6 L543.5,264.6 L544.0,266.6 L544.5,268.5 L545.0,270.2 L545.5,271.7 L546.0,273.0 L546.5,274.1 L547.0,275.0 L547.5,275.5 L548.0,275.8 L548.5,275.7 L549.0,275.4 L549.5,274.8 L550.0,274.0 L550.5,273.1 L551.0,272.3 L551.5,271.5 L552.0,270.8 L552.5,270.3 L553.0,269.9 L553.5,269.7 L554.0,269.3 L554.5,268.7 L555.0,267.8 L555.5,266.4 L556.0,264.8 L556.5,263.0 L557.0,261.2 L557.5,259.5 L558.0,258.0 L558.5,256.8 L559.0,255.6 L559.5,254.6 L560.0,253.8 L560.5,253.1 L561.0,252.5 L561.5,252.1 L562.0,251.9 L562.5,251.8 L563.0,251.9 L563.5,252.1 L564.0,252.3 L564.5,252.7 L565.0,253.1 L565.5,253.6 L566.0,254.1 L566.5,254.6 L567.0,255.1 L567.5,255.5 L568.0,256.0 L568.5,256.4 L569.0,256.7 L569.5,257.0 L570.0,257.3 L570.5,257.5 L571.0,257.7 L571.5,257.9 L572.0,258.0 L572.5,258.2 L573.0,258.3 L573.5,258.5 L574.0,258.6 L574.5,258.7 L575.0,258.8 L575.5,258.7 L576.0,258.6 L576.5,258.3 L577.0,257.8 L577.5,257.1 L578.0,256.2 L578.5,255.3 L579.0,254.2 L579.5,253.1 L580.0,251.9 L580.5,250.7 L581.0,249.5 L581.5,248.4 L582.0,247.4 L582.5,246.4 L583.0,245.4 L583.5,244.5 L584.0,243.6 L584.5,242.7 L585.0,241.9 L585.5,241.1 L586.0,240.4 L586.5,239.7 L587.0,239.1 L587.5,238.6 L588.0,238.2 L588.5,237.8 L589.0,237.4 L589.5,237.2 L590.0,236.9 L590.5,236.7 L591.0,236.5 L591.5,236.2 L592.0,236.0 L592.5,235.8 L593.0,235.5 L593.5,235.2 L594.0,234.9 L594.5,234.5 L595.0,234.1 L595.5,233.5 L596.0,233.0 L596.5,232.4 L597.0,231.7 L597.5,231.1 L598.0,230.4 L598.5,229.8 L599.0,229.2 L599.5,228.6 L600.0,228.1 L600.5,227.6 L601.0,227.2 L601.5,226.9 L602.0,226.8 L602.5,226.7 L603.0,226.7 L603.5,226.8 L604.0,227.1 L604.5,227.3 L605.0,227.7 L605.5,228.1 L606.0,228.5 L606.5,229.0 L607.0,229.5 L607.5,230.0 L608.0,230.5 L608.5,231.0 L609.0,231.5 L609.5,232.0 L610.0,232.5 L610.5,232.9 L611.0,233.2 L611.5,233.6 L612.0,233.9 L612.5,234.2 L613.0,234.6 L613.5,234.9 L614.0,235.2 L614.5,235.5 L615.0,235.8 L615.5,236.2 L616.0,236.5 L616.5,236.9 L617.0,237.3 L617.5,237.7 L618.0,238.2 L618.5,238.7 L619.0,239.2 L619.5,239.6 L620.0,240.0 L620.5,240.3 L621.0,240.6 L621.5,240.7 L622.0,240.7 L622.5,240.6 L623.0,240.3 L623.5,239.6 L624.0,238.8 L624.5,237.8 L625.0,236.5 L625.5,235.2 L626.0,233.7 L626.5,232.2 L627.0,230.6 L627.5,228.9 L628.0,227.3 L628.5,225.6 L629.0,223.8 L629.5,222.0 L630.0,220.0 L630.5,218.0 L631.0,216.0 L631.5,213.9 L632.0,211.8 L632.5,209.6 L633.0,207.5 L633.5,205.2 L634.0,202.9 L634.5,200.6 L635.0,198.2 L635.5,195.9 L636.0,193.6 L636.5,191.3 L637.0,189.2 L637.5,187.1 L638.0,185.2 L638.5,183.3 L639.0,181.6 L639.5,179.9 L640.0,178.3 L640.5,176.9 L641.0,175.6 L641.5,174.5 L642.0,173.6 L642.5,173.0 L643.0,172.5 L643.5,172.4 L644.0,172.4 L644.5,172.7 L645.0,173.1 L645.5,173.7 L646.0,174.4 L646.5,175.3 L647.0,176.3 L647.5,177.3 L648.0,178.4 L648.5,179.5 L649.0,180.6 L649.5,181.7 L650.0,182.9 L650.5,184.4 L651.0,186.0 L651.5,188.0 L652.0,190.2 L652.5,192.9 L653.0,196.1 L653.5,199.8 L654.0,203.4 L654.5,206.5 L655.0,208.6 L655.5,208.6 L656.0,205.3 L656.5,199.8 L657.0,193.7 L657.5,187.3 L658.0,180.6 L658.5,174.0 L659.0,167.7 L659.0,171.8 L658.5,178.3 L658.0,185.1 L657.5,192.2 L657.0,199.6 L656.5,207.6 L656.0,215.8 L655.5,222.1 L655.0,224.9 L654.5,225.0 L654.0,223.1 L653.5,219.8 L653.0,216.1 L652.5,212.9 L652.0,210.3 L651.5,208.1 L651.0,206.2 L650.5,204.7 L650.0,203.5 L649.5,202.5 L649.0,201.8 L648.5,201.2 L648.0,200.7 L647.5,200.3 L647.0,199.9 L646.5,199.6 L646.0,199.2 L645.5,198.9 L645.0,198.6 L644.5,198.4 L644.0,198.3 L643.5,198.2 L643.0,198.4 L642.5,198.7 L642.0,199.2 L641.5,199.8 L641.0,200.5 L640.5,201.2 L640.0,202.1 L639.5,203.0 L639.0,203.9 L638.5,205.0 L638.0,206.3 L637.5,207.7 L637.0,209.3 L636.5,211.0 L636.0,212.8 L635.5,214.7 L635.0,216.6 L634.5,218.6 L634.0,220.5 L633.5,222.5 L633.0,224.5 L632.5,226.4 L632.0,228.3 L631.5,230.2 L631.0,232.2 L630.5,234.1 L630.0,236.1 L629.5,238.0 L629.0,239.8 L628.5,241.6 L628.0,243.3 L627.5,244.9 L627.0,246.6 L626.5,248.2 L626.0,249.7 L625.5,251.2 L625.0,252.5 L624.5,253.8 L624.0,254.8 L623.5,255.6 L623.0,256.3 L622.5,256.6 L622.0,256.7 L621.5,256.6 L621.0,256.4 L620.5,256.1 L620.0,255.6 L619.5,255.1 L619.0,254.5 L618.5,254.0 L618.0,253.4 L617.5,252.8 L617.0,252.3 L616.5,251.9 L616.0,251.4 L615.5,251.0 L615.0,250.6 L614.5,250.2 L614.0,249.9 L613.5,249.5 L613.0,249.2 L612.5,248.8 L612.0,248.4 L611.5,248.0 L611.0,247.7 L610.5,247.2 L610.0,246.8 L609.5,246.3 L609.0,245.8 L608.5,245.3 L608.0,244.7 L607.5,244.2 L607.0,243.6 L606.5,243.1 L606.0,242.6 L605.5,242.2 L605.0,241.7 L604.5,241.4 L604.0,241.1 L603.5,240.9 L603.0,240.7 L602.5,240.7 L602.0,240.8 L601.5,240.9 L601.0,241.2 L600.5,241.6 L600.0,242.1 L599.5,242.6 L599.0,243.2 L598.5,243.8 L598.0,244.4 L597.5,245.1 L597.0,245.7 L596.5,246.4 L596.0,247.0 L595.5,247.5 L595.0,248.1 L594.5,248.5 L594.0,248.9 L593.5,249.2 L593.0,249.5 L592.5,249.8 L592.0,250.0 L591.5,250.2 L591.0,250.5 L590.5,250.7 L590.0,250.9 L589.5,251.2 L589.0,251.4 L588.5,251.8 L588.0,252.2 L587.5,252.6 L587.0,253.1 L586.5,253.7 L586.0,254.3 L585.5,255.0 L585.0,255.8 L584.5,256.6 L584.0,257.4 L583.5,258.2 L583.0,259.1 L582.5,260.1 L582.0,261.0 L581.5,262.0 L581.0,263.1 L580.5,264.2 L580.0,265.3 L579.5,266.4 L579.0,267.5 L578.5,268.5 L578.0,269.4 L577.5,270.2 L577.0,270.9 L576.5,271.3 L576.0,271.6 L575.5,271.7 L575.0,271.7 L574.5,271.6 L574.0,271.4 L573.5,271.2 L573.0,271.0 L572.5,270.8 L572.0,270.6 L571.5,270.4 L571.0,270.2 L570.5,270.0 L570.0,269.8 L569.5,269.5 L569.0,269.2 L568.5,268.8 L568.0,268.4 L567.5,267.9 L567.0,267.4 L566.5,266.9 L566.0,266.3 L565.5,265.8 L565.0,265.3 L564.5,264.8 L564.0,264.4 L563.5,264.1 L563.0,263.9 L562.5,263.8 L562.0,263.9 L561.5,264.1 L561.0,264.5 L560.5,265.1 L560.0,265.8 L559.5,266.6 L559.0,267.6 L558.5,268.8 L558.0,270.0 L557.5,271.5 L557.0,273.2 L556.5,275.0 L556.0,276.8 L555.5,278.5 L555.0,279.8 L554.5,280.8 L554.0,281.3 L553.5,281.7 L553.0,282.1 L552.5,282.4 L552.0,282.9 L551.5,283.7 L551.0,284.5 L550.5,285.4 L550.0,286.3 L549.5,287.1 L549.0,287.8 L548.5,288.2 L548.0,288.3 L547.5,288.1 L547.0,287.7 L546.5,287.0 L546.0,286.0 L545.5,284.9 L545.0,283.6 L544.5,282.1 L544.0,280.5 L543.5,278.8 L543.0,277.0 L542.5,275.2 L542.0,273.3 L541.5,271.4 L541.0,269.4 L540.5,267.4 L540.0,265.4 L539.5,263.5 L539.0,261.8 L538.5,260.2 L538.0,258.7 L537.5,257.4 L537.0,256.4 L536.5,255.8 L536.0,255.4 L535.5,255.2 L535.0,255.1 L534.5,255.1 L534.0,255.1 L533.5,255.2 L533.0,255.2 L532.5,255.3 L532.0,255.3 L531.5,255.4 L531.0,255.5 L530.5,255.6 L530.0,255.8 L529.5,256.2 L529.0,256.8 L528.5,257.5 L528.0,258.3 L527.5,259.3 L527.0,260.2 L526.5,261.4 L526.0,262.7 L525.5,264.2 L525.0,265.7 L524.5,267.4 L524.0,269.0 L523.5,270.8 L523.0,272.6 L522.5,274.5 L522.0,276.4 L521.5,278.3 L521.0,280.2 L520.5,282.0 L520.0,283.7 L519.5,285.3 L519.0,286.7 L518.5,288.0 L518.0,289.0 L517.5,289.8 L517.0,290.2 L516.5,290.4 L516.0,290.4 L515.5,290.2 L515.0,289.7 L514.5,289.2 L514.0,288.5 L513.5,287.7 L513.0,286.8 L512.5,285.8 L512.0,284.8 L511.5,283.8 L511.0,282.8 L510.5,281.8 L510.0,280.8 L509.5,279.9 L509.0,279.1 L508.5,278.4 L508.0,277.9 L507.5,277.5 L507.0,277.2 L506.5,277.2 L506.0,277.4 L505.5,277.8 L505.0,278.4 L504.5,279.0 L504.0,279.8 L503.5,280.7 L503.0,281.5 L502.5,282.4 L502.0,283.3 L501.5,284.1 L501.0,284.9 L500.5,285.5 L500.0,286.0 L499.5,286.3 L499.0,286.4 L498.5,286.3 L498.0,285.8 L497.5,284.9 L497.0,283.8 L496.5,282.3 L496.0,280.5 L495.5,278.4 L495.0,276.1 L494.5,273.6 L494.0,270.9 L493.5,268.1 L493.0,264.9 L492.5,261.4 L492.0,257.5 L491.5,253.4 L491.0,249.1 L490.5,244.7 L490.0,240.5 L489.5,236.4 L489.0,232.5 L488.5,228.8 L488.0,225.1 L487.5,221.5 L487.0,218.2 L486.5,215.2 L486.0,212.6 L485.5,210.5 L485.0,208.9 L484.5,208.0 L484.0,207.7 L483.5,208.4 L483.0,210.0 L482.5,212.3 L482.0,215.2 L481.5,218.6 L481.0,222.3 L480.5,226.1 L480.0,230.0 L479.5,233.6 L479.0,237.2 L478.5,240.8 L478.0,244.5 L477.5,248.2 L477.0,252.0 L476.5,255.7 L476.0,259.5 L475.5,263.3 L475.0,267.0 L474.5,270.8 L474.0,274.6 L473.5,278.5 L473.0,282.3 L472.5,285.9 L472.0,289.4 L471.5,292.5 L471.0,295.2 L470.5,297.5 L470.0,299.3 L469.5,300.4 L469.0,300.8 L468.5,300.5 L468.0,299.5 L467.5,297.9 L467.0,295.8 L466.5,293.4 L466.0,290.9 L465.5,288.2 L465.0,285.7 L464.5,283.4 L464.0,281.5 L463.5,279.9 L463.0,278.5 L462.5,277.2 L462.0,275.9 L461.5,274.5 L461.0,272.9 L460.5,271.0 L460.0,268.6 L459.5,265.9 L459.0,263.0 L458.5,260.0 L458.0,257.0 L457.5,254.2 L457.0,251.7 L456.5,249.7 L456.0,248.3 L455.5,247.6 L455.0,247.7 L454.5,248.4 L454.0,249.6 L453.5,251.4 L453.0,253.4 L452.5,255.6 L452.0,257.8 L451.5,260.0 L451.0,262.2 L450.5,264.3 L450.0,266.4 L449.5,268.3 L449.0,270.1 L448.5,271.7 L448.0,273.2 L447.5,274.4 L447.0,275.3 L446.5,276.1 L446.0,276.6 L445.5,276.9 L445.0,277.1 L444.5,277.1 L444.0,276.9 L443.5,276.5 L443.0,275.6 L442.5,274.1 L442.0,272.1 L441.5,269.4 L441.0,266.1 L440.5,262.1 L440.0,256.8 L439.5,251.2 L439.0,247.1 L438.5,244.1 L438.0,241.8 L437.5,239.9 L437.0,238.4 L436.5,236.9 L436.0,235.3 L435.5,233.9 L435.0,232.7 L434.5,231.7 L434.0,231.0 L433.5,230.7 L433.0,230.8 L432.5,231.2 L432.0,231.8 L431.5,232.8 L431.0,234.1 L430.5,235.6 L430.0,237.3 L429.5,239.2 L429.0,241.1 L428.5,243.1 L428.0,245.0 L427.5,246.9 L427.0,248.9 L426.5,250.8 L426.0,252.7 L425.5,254.3 L425.0,255.8 L424.5,256.9 L424.0,257.6 L423.5,257.9 L423.0,257.5 L422.5,256.4 L422.0,254.6 L421.5,252.2 L421.0,249.3 L420.5,246.0 L420.0,242.5 L419.5,238.7 L419.0,234.7 L418.5,230.7 L418.0,226.7 L417.5,222.8 L417.0,219.2 L416.5,215.6 L416.0,212.1 L415.5,208.7 L415.0,205.4 L414.5,202.3 L414.0,199.5 L413.5,197.1 L413.0,195.1 L412.5,193.7 L412.0,192.8 L411.5,192.5 L411.0,192.6 L410.5,193.0 L410.0,193.9 L409.5,195.0 L409.0,196.4 L408.5,198.0 L408.0,199.8 L407.5,201.8 L407.0,203.8 L406.5,205.9 L406.0,207.9 L405.5,210.0 L405.0,211.9 L404.5,213.8 L404.0,215.6 L403.5,217.4 L403.0,219.0 L402.5,220.4 L402.0,221.5 L401.5,222.2 L401.0,222.6 L400.5,222.6 L400.0,222.0 L399.5,220.9 L399.0,219.5 L398.5,217.7 L398.0,215.6 L397.5,213.3 L397.0,210.8 L396.5,208.4 L396.0,206.0 L395.5,203.7 L395.0,201.7 L394.5,200.1 L394.0,198.9 L393.5,198.2 L393.0,198.1 L392.5,198.8 L392.0,200.0 L391.5,201.7 L391.0,203.9 L390.5,206.3 L390.0,209.1 L389.5,212.0 L389.0,215.0 L388.5,218.0 L388.0,221.0 L387.5,224.0 L387.0,227.1 L386.5,230.3 L386.0,233.5 L385.5,236.8 L385.0,240.0 L384.5,243.2 L384.0,246.3 L383.5,249.5 L383.0,252.7 L382.5,255.9 L382.0,258.9 L381.5,261.6 L381.0,263.9 L380.5,265.7 L380.0,266.8 L379.5,267.2 L379.0,266.9 L378.5,266.1 L378.0,264.8 L377.5,263.1 L377.0,261.0 L376.5,258.6 L376.0,256.0 L375.5,253.2 L375.0,250.3 L374.5,247.4 L374.0,244.5 L373.5,241.6 L373.0,238.6 L372.5,235.5 L372.0,232.5 L371.5,229.7 L371.0,227.0 L370.5,224.7 L370.0,222.7 L369.5,221.2 L369.0,220.2 L368.5,219.8 L368.0,220.1 L367.5,221.0 L367.0,222.5 L366.5,224.5 L366.0,227.0 L365.5,229.8 L365.0,232.9 L364.5,236.2 L364.0,239.6 L363.5,243.1 L363.0,246.6 L362.5,250.2 L362.0,254.0 L361.5,258.0 L361.0,262.1 L360.5,266.2 L360.0,270.0 L359.5,273.5 L359.0,276.7 L358.5,279.3 L358.0,281.2 L357.5,282.3 L357.0,282.8 L356.5,282.7 L356.0,282.1 L355.5,281.1 L355.0,279.7 L354.5,277.9 L354.0,276.0 L353.5,273.8 L353.0,271.6 L352.5,269.2 L352.0,266.9 L351.5,264.6 L351.0,262.4 L350.5,260.4 L350.0,258.4 L349.5,256.5 L349.0,254.6 L348.5,252.8 L348.0,251.1 L347.5,249.5 L347.0,248.1 L346.5,246.9 L346.0,245.8 L345.5,245.0 L345.0,244.5 L344.5,244.2 L344.0,244.3 L343.5,244.7 L343.0,245.4 L342.5,246.3 L342.0,247.4 L341.5,248.6 L341.0,249.8 L340.5,251.1 L340.0,252.3 L339.5,253.4 L339.0,254.3 L338.5,255.0 L338.0,255.4 L337.5,255.5 L337.0,255.3 L336.5,254.7 L336.0,253.9 L335.5,253.0 L335.0,252.0 L334.5,251.0 L334.0,250.1 L333.5,249.3 L333.0,248.8 L332.5,248.6 L332.0,248.8 L331.5,249.3 L331.0,250.2 L330.5,251.3 L330.0,252.7 L329.5,254.3 L329.0,256.1 L328.5,258.1 L328.0,260.2 L327.5,262.4 L327.0,264.7 L326.5,267.1 L326.0,269.4 L325.5,271.9 L325.0,274.5 L324.5,277.2 L324.0,279.9 L323.5,282.4 L323.0,284.8 L322.5,286.8 L322.0,288.4 L321.5,289.5 L321.0,290.0 L320.5,289.9 L320.0,289.1 L319.5,287.7 L319.0,285.8 L318.5,283.5 L318.0,280.9 L317.5,278.1 L317.0,275.2 L316.5,272.3 L316.0,269.6 L315.5,266.9 L315.0,264.1 L314.5,261.5 L314.0,259.0 L313.5,256.6 L313.0,254.6 L312.5,252.9 L312.0,251.6 L311.5,250.8 L311.0,250.5 L310.5,250.8 L310.0,251.4 L309.5,252.5 L309.0,253.8 L308.5,255.5 L308.0,257.4 L307.5,259.5 L307.0,261.8 L306.5,264.3 L306.0,267.1 L305.5,270.0 L305.0,272.7 L304.5,275.0 L304.0,276.8 L303.5,277.9 L303.0,278.0 L302.5,277.0 L302.0,274.5 L301.5,270.9 L301.0,266.7 L300.5,262.2 L300.0,258.0 L299.5,254.3 L299.0,251.2 L298.5,248.4 L298.0,245.8 L297.5,243.3 L297.0,240.7 L296.5,237.9 L296.0,235.1 L295.5,232.1 L295.0,229.1 L294.5,226.0 L294.0,223.0 L293.5,219.9 L293.0,216.7 L292.5,213.5 L292.0,210.6 L291.5,208.3 L291.0,206.9 L290.5,206.5 L290.0,206.8 L289.5,207.8 L289.0,209.3 L288.5,211.4 L288.0,213.8 L287.5,216.5 L287.0,219.4 L286.5,222.5 L286.0,225.7 L285.5,228.8 L285.0,231.8 L284.5,234.8 L284.0,237.8 L283.5,240.8 L283.0,243.6 L282.5,246.0 L282.0,248.0 L281.5,249.3 L281.0,250.0 L280.5,250.1 L280.0,249.7 L279.5,249.0 L279.0,248.1 L278.5,247.0 L278.0,245.7 L277.5,244.4 L277.0,243.2 L276.5,242.0 L276.0,240.9 L275.5,239.7 L275.0,238.7 L274.5,237.7 L274.0,236.9 L273.5,236.3 L273.0,235.9 L272.5,235.7 L272.0,235.8 L271.5,236.0 L271.0,236.3 L270.5,236.7 L270.0,237.1 L269.5,237.5 L269.0,237.9 L268.5,238.2 L268.0,238.3 L267.5,238.2 L267.0,237.8 L266.5,237.1 L266.0,236.0 L265.5,234.3 L265.0,232.2 L264.5,229.7 L264.0,227.1 L263.5,224.5 L263.0,222.1 L262.5,220.0 L262.0,218.5 L261.5,217.6 L261.0,217.5 L260.5,218.2 L260.0,219.7 L259.5,221.9 L259.0,224.5 L258.5,227.6 L258.0,231.3 L257.5,235.6 L257.0,240.4 L256.5,245.4 L256.0,250.2 L255.5,254.6 L255.0,258.9 L254.5,262.9 L254.0,266.7 L253.5,270.6 L253.0,274.4 L252.5,278.1 L252.0,281.3 L251.5,283.9 L251.0,285.6 L250.5,286.3 L250.0,286.0 L249.5,284.9 L249.0,283.2 L248.5,280.9 L248.0,278.2 L247.5,275.0 L247.0,271.6 L246.5,268.1 L246.0,264.4 L245.5,260.8 L245.0,257.4 L244.5,253.9 L244.0,250.5 L243.5,247.1 L243.0,244.1 L242.5,241.6 L242.0,239.8 L241.5,238.9 L241.0,238.9 L240.5,240.2 L240.0,242.3 L239.5,245.2 L239.0,248.6 L238.5,252.3 L238.0,256.2 L237.5,260.0 L237.0,263.5 L236.5,266.8 L236.0,270.1 L235.5,273.1 L235.0,275.6 L234.5,277.6 L234.0,278.8 L233.5,279.0 L233.0,278.5 L232.5,277.2 L232.0,275.5 L231.5,273.5 L231.0,271.3 L230.5,269.1 L230.0,267.0 L229.5,265.0 L229.0,263.0 L228.5,261.4 L228.0,260.3 L227.5,259.8 L227.0,260.3 L226.5,261.8 L226.0,264.0 L225.5,266.5 L225.0,269.3 L224.5,272.5 L224.0,276.1 L223.5,280.1 L223.0,284.5 L222.5,289.4 L222.0,294.8 L221.5,300.7 L221.0,307.1 L220.5,314.0 L220.0,321.8 L219.5,330.6 L219.0,340.4 L218.5,351.2 L218.0,362.9 L217.5,375.7Z" fill="#80f880" stroke="none"/>
<path d="M653.2,216 L654.3,240 L654.8,246.5 L655.3,240 L656.6,214Z M657.9,178 L659.3,144 L660.5,144 L660.4,166 L659.6,180Z" fill="#80f880" stroke="none"/>
<path d="M217.3,380.0 L217.8,366.8 L218.3,354.6 L218.8,343.3 L219.3,332.9 L219.8,323.5 L220.3,315.1 L220.8,307.5 L221.3,300.6 L221.8,294.2 L222.3,288.1 L222.8,282.4 L223.3,277.0 L223.8,272.1 L224.3,267.4 L224.8,263.1 L225.3,259.3 L225.8,256.1 L226.3,253.2 L226.8,251.1 L227.3,250.0 L227.8,250.1 L228.3,251.2 L228.8,252.8 L229.3,254.9 L229.8,257.1 L230.3,259.4 L230.8,261.8 L231.3,264.2 L231.8,266.5 L232.3,268.5 L232.8,270.0 L233.3,270.9 L233.8,270.9 L234.3,270.1 L234.8,268.3 L235.3,265.9 L235.8,263.0 L236.3,259.8 L236.8,256.4 L237.3,252.9 L237.8,249.1 L238.3,245.1 L238.8,241.3 L239.3,237.6 L239.8,234.5 L240.3,232.0 L240.8,230.3 L241.3,229.8 L241.8,230.4 L242.3,231.9 L242.8,234.2 L243.3,237.1 L243.8,240.5 L244.3,244.0 L244.8,247.6 L245.3,251.1 L245.8,254.8 L246.3,258.6 L246.8,262.3 L247.3,265.9 L247.8,269.2 L248.3,272.2 L248.8,274.8 L249.3,276.8 L249.8,278.1 L250.3,278.7 L250.8,278.5 L251.3,277.1 L251.8,274.8 L252.3,271.8 L252.8,268.3 L253.3,264.4 L253.8,260.5 L254.3,256.7 L254.8,252.7 L255.3,248.4 L255.8,244.0 L256.3,239.2 L256.8,234.1 L257.3,228.9 L257.8,224.0 L258.3,219.6 L258.8,215.8 L259.3,212.5 L259.8,209.6 L260.3,207.2 L260.8,205.6 L261.3,204.8 L261.8,204.7 L262.3,205.3 L262.8,206.4 L263.3,207.9 L263.8,209.6 L264.3,211.5 L264.8,213.3 L265.3,215.1 L265.8,216.7 L266.3,217.9 L266.8,218.8 L267.3,219.5 L267.8,220.0 L268.3,220.3 L268.8,220.5 L269.3,220.5 L269.8,220.5 L270.3,220.5 L270.8,220.5 L271.3,220.6 L271.8,220.7 L272.3,220.9 L272.8,221.2 L273.3,221.8 L273.8,222.6 L274.3,223.7 L274.8,224.8 L275.3,226.1 L275.8,227.4 L276.3,228.8 L276.8,230.2 L277.3,231.6 L277.8,233.1 L278.3,234.6 L278.8,236.0 L279.3,237.2 L279.8,238.2 L280.3,238.9 L280.8,239.1 L281.3,238.9 L281.8,238.0 L282.3,236.4 L282.8,234.3 L283.3,231.8 L283.8,229.0 L284.3,226.1 L284.8,223.1 L285.3,220.3 L285.8,217.3 L286.3,214.2 L286.8,211.2 L287.3,208.3 L287.8,205.5 L288.3,203.1 L288.8,200.9 L289.3,199.2 L289.8,198.1 L290.3,197.5 L290.8,197.6 L291.3,198.6 L291.8,200.5 L292.3,203.2 L292.8,206.2 L293.3,209.3 L293.8,212.3 L294.3,215.2 L294.8,218.1 L295.3,221.0 L295.8,223.8 L296.3,226.5 L296.8,229.2 L297.3,231.7 L297.8,234.1 L298.3,236.5 L298.8,239.1 L299.3,242.1 L299.8,245.4 L300.3,249.5 L300.8,253.9 L301.3,258.3 L301.8,262.2 L302.3,265.1 L302.8,266.8 L303.3,267.1 L303.8,266.4 L304.3,264.8 L304.8,262.7 L305.3,260.1 L305.8,257.2 L306.3,254.3 L306.8,251.5 L307.3,249.0 L307.8,246.6 L308.3,244.3 L308.8,242.3 L309.3,240.6 L309.8,239.2 L310.3,238.2 L310.8,237.7 L311.3,237.8 L311.8,238.5 L312.3,239.7 L312.8,241.5 L313.3,243.7 L313.8,246.2 L314.3,248.9 L314.8,251.7 L315.3,254.6 L315.8,257.4 L316.3,260.1 L316.8,263.0 L317.3,265.8 L317.8,268.6 L318.3,271.2 L318.8,273.6 L319.3,275.6 L319.8,277.2 L320.3,278.2 L320.8,278.6 L321.3,278.3 L321.8,277.4 L322.3,276.0 L322.8,274.2 L323.3,272.0 L323.8,269.6 L324.3,267.1 L324.8,264.5 L325.3,261.9 L325.8,259.4 L326.3,257.1 L326.8,254.9 L327.3,252.6 L327.8,250.5 L328.3,248.4 L328.8,246.4 L329.3,244.6 L329.8,243.0 L330.3,241.6 L330.8,240.4 L331.3,239.5 L331.8,238.9 L332.3,238.6 L332.8,238.7 L333.3,239.0 L333.8,239.7 L334.3,240.4 L334.8,241.3 L335.3,242.3 L335.8,243.1 L336.3,243.9 L336.8,244.4 L337.3,244.7 L337.8,244.6 L338.3,244.3 L338.8,243.6 L339.3,242.8 L339.8,241.8 L340.3,240.7 L340.8,239.6 L341.3,238.4 L341.8,237.3 L342.3,236.3 L342.8,235.4 L343.3,234.7 L343.8,234.3 L344.3,234.2 L344.8,234.3 L345.3,234.8 L345.8,235.4 L346.3,236.3 L346.8,237.4 L347.3,238.7 L347.8,240.2 L348.3,241.7 L348.8,243.4 L349.3,245.1 L349.8,246.9 L350.3,248.8 L350.8,250.6 L351.3,252.6 L351.8,254.6 L352.3,256.7 L352.8,258.7 L353.3,260.7 L353.8,262.6 L354.3,264.3 L354.8,265.8 L355.3,267.1 L355.8,268.0 L356.3,268.7 L356.8,268.9 L357.3,268.7 L357.8,268.0 L358.3,266.6 L358.8,264.5 L359.3,261.9 L359.8,258.8 L360.3,255.4 L360.8,251.8 L361.3,248.0 L361.8,244.2 L362.3,240.5 L362.8,236.9 L363.3,233.5 L363.8,230.0 L364.3,226.6 L364.8,223.2 L365.3,220.0 L365.8,217.1 L366.3,214.5 L366.8,212.3 L367.3,210.5 L367.8,209.4 L368.3,208.8 L368.8,209.0 L369.3,209.8 L369.8,211.2 L370.3,213.1 L370.8,215.4 L371.3,218.0 L371.8,220.9 L372.3,223.9 L372.8,227.1 L373.3,230.2 L373.8,233.3 L374.3,236.3 L374.8,239.3 L375.3,242.4 L375.8,245.4 L376.3,248.3 L376.8,251.0 L377.3,253.4 L377.8,255.5 L378.3,257.2 L378.8,258.4 L379.3,259.0 L379.8,259.0 L380.3,258.3 L380.8,256.9 L381.3,254.8 L381.8,252.4 L382.3,249.5 L382.8,246.5 L383.3,243.3 L383.8,240.2 L384.3,237.2 L384.8,234.1 L385.3,230.9 L385.8,227.7 L386.3,224.5 L386.8,221.3 L387.3,218.2 L387.8,215.2 L388.3,212.2 L388.8,209.2 L389.3,206.2 L389.8,203.2 L390.3,200.4 L390.8,197.8 L391.3,195.5 L391.8,193.6 L392.3,192.2 L392.8,191.3 L393.3,191.0 L393.8,191.3 L394.3,192.1 L394.8,193.3 L395.3,194.8 L395.8,196.5 L396.3,198.4 L396.8,200.3 L397.3,202.2 L397.8,204.0 L398.3,205.7 L398.8,207.0 L399.3,207.9 L399.8,208.4 L400.3,208.4 L400.8,207.8 L401.3,206.6 L401.8,205.0 L402.3,203.1 L402.8,200.8 L403.3,198.4 L403.8,195.9 L404.3,193.4 L404.8,190.9 L405.3,188.6 L405.8,186.2 L406.3,183.8 L406.8,181.5 L407.3,179.2 L407.8,177.0 L408.3,174.9 L408.8,173.0 L409.3,171.3 L409.8,169.9 L410.3,168.7 L410.8,167.8 L411.3,167.3 L411.8,167.1 L412.3,167.4 L412.8,168.1 L413.3,169.4 L413.8,171.0 L414.3,173.0 L414.8,175.2 L415.3,177.6 L415.8,180.1 L416.3,182.6 L416.8,185.0 L417.3,187.4 L417.8,189.9 L418.3,192.4 L418.8,194.9 L419.3,197.3 L419.8,199.6 L420.3,201.8 L420.8,203.7 L421.3,205.4 L421.8,206.9 L422.3,207.9 L422.8,208.6 L423.3,208.8 L423.8,208.5 L424.3,207.8 L424.8,206.7 L425.3,205.2 L425.8,203.6 L426.3,201.7 L426.8,199.7 L427.3,197.7 L427.8,195.8 L428.3,193.9 L428.8,191.9 L429.3,189.9 L429.8,188.0 L430.3,186.3 L430.8,184.7 L431.3,183.3 L431.8,182.2 L432.3,181.5 L432.8,181.2 L433.3,181.4 L433.8,182.1 L434.3,183.4 L434.8,185.1 L435.3,187.1 L435.8,189.4 L436.3,191.7 L436.8,194.1 L437.3,196.4 L437.8,198.9 L438.3,201.8 L438.8,205.5 L439.3,210.0 L439.8,216.1 L440.3,222.8 L440.8,228.2 L441.3,232.9 L441.8,237.0 L442.3,240.4 L442.8,243.3 L443.3,245.6 L443.8,247.3 L444.3,248.7 L444.8,249.8 L445.3,250.8 L445.8,251.6 L446.3,252.1 L446.8,252.4 L447.3,252.4 L447.8,252.1 L448.3,251.5 L448.8,250.6 L449.3,249.5 L449.8,248.3 L450.3,246.9 L450.8,245.4 L451.3,244.0 L451.8,242.5 L452.3,241.1 L452.8,239.9 L453.3,238.8 L453.8,237.9 L454.3,237.3 L454.8,237.1 L455.3,237.2 L455.8,237.7 L456.3,238.8 L456.8,240.4 L457.3,242.5 L457.8,244.9 L458.3,247.5 L458.8,250.2 L459.3,253.0 L459.8,255.8 L460.3,258.3 L460.8,260.6 L461.3,262.7 L461.8,264.7 L462.3,266.7 L462.8,268.6 L463.3,270.6 L463.8,272.7 L464.3,275.0 L464.8,277.5 L465.3,280.2 L465.8,283.1 L466.3,285.9 L466.8,288.5 L467.3,290.8 L467.8,292.7 L468.3,294.1 L468.8,294.8 L469.3,294.6 L469.8,293.8 L470.3,292.3 L470.8,290.2 L471.3,287.6 L471.8,284.7 L472.3,281.3 L472.8,277.8 L473.3,274.0 L473.8,270.2 L474.3,266.3 L474.8,262.5 L475.3,258.8 L475.8,255.0 L476.3,251.2 L476.8,247.3 L477.3,243.4 L477.8,239.4 L478.3,235.5 L478.8,231.5 L479.3,227.6 L479.8,223.6 L480.3,219.5 L480.8,215.2 L481.3,211.1 L481.8,207.3 L482.3,203.9 L482.8,201.1 L483.3,199.1 L483.8,198.0 L484.3,197.9 L484.8,198.7 L485.3,200.2 L485.8,202.4 L486.3,205.2 L486.8,208.4 L487.3,211.9 L487.8,215.7 L488.3,219.6 L488.8,223.6 L489.3,227.6 L489.8,231.7 L490.3,236.0 L490.8,240.3 L491.3,244.7 L491.8,248.9 L492.3,252.9 L492.8,256.6 L493.3,259.9 L493.8,262.8 L494.3,265.6 L494.8,268.2 L495.3,270.5 L495.8,272.7 L496.3,274.6 L496.8,276.2 L497.3,277.5 L497.8,278.5 L498.3,279.1 L498.8,279.4 L499.3,279.3 L499.8,279.1 L500.3,278.7 L500.8,278.1 L501.3,277.4 L501.8,276.6 L502.3,275.8 L502.8,274.9 L503.3,274.0 L503.8,273.1 L504.3,272.3 L504.8,271.6 L505.3,271.0 L505.8,270.6 L506.3,270.3 L506.8,270.2 L507.3,270.4 L507.8,270.7 L508.3,271.2 L508.8,271.9 L509.3,272.7 L509.8,273.7 L510.3,274.7 L510.8,275.7 L511.3,276.8 L511.8,278.0 L512.3,279.0 L512.8,280.1 L513.3,281.1 L513.8,282.0 L514.3,282.8 L514.8,283.5 L515.3,284.0 L515.8,284.3 L516.3,284.4 L516.8,284.3 L517.3,283.9 L517.8,283.2 L518.3,282.2 L518.8,280.9 L519.3,279.4 L519.8,277.8 L520.3,276.0 L520.8,274.0 L521.3,272.0 L521.8,269.9 L522.3,267.8 L522.8,265.8 L523.3,263.7 L523.8,261.8 L524.3,259.9 L524.8,258.0 L525.3,256.1 L525.8,254.3 L526.3,252.7 L526.8,251.1 L527.3,249.7 L527.8,248.5 L528.3,247.3 L528.8,246.3 L529.3,245.4 L529.8,244.8 L530.3,244.3 L530.8,244.1 L531.3,243.9 L531.8,243.8 L532.3,243.8 L532.8,243.7 L533.3,243.7 L533.8,243.6 L534.3,243.6 L534.8,243.6 L535.3,243.6 L535.8,243.8 L536.3,244.2 L536.8,244.8 L537.3,245.9 L537.8,247.3 L538.3,249.1 L538.8,251.0 L539.3,253.0 L539.8,255.1 L540.3,257.5 L540.8,259.9 L541.3,262.2 L541.8,264.4 L542.3,266.5 L542.8,268.6 L543.3,270.7 L543.8,272.6 L544.3,274.5 L544.8,276.2 L545.3,277.8 L545.8,279.2 L546.3,280.3 L546.8,281.2 L547.3,281.9 L547.8,282.3 L548.3,282.3 L548.8,282.0 L549.3,281.4 L549.8,280.7 L550.3,279.8 L550.8,278.9 L551.3,278.0 L551.8,277.2 L552.3,276.6 L552.8,276.2 L553.3,275.9 L553.8,275.5 L554.3,275.0 L554.8,274.2 L555.3,273.0 L555.8,271.5 L556.3,269.7 L556.8,267.9 L557.3,266.1 L557.8,264.6 L558.3,263.2 L558.8,262.1 L559.3,261.0 L559.8,260.1 L560.3,259.3 L560.8,258.7 L561.3,258.3 L561.8,257.9 L562.3,257.8 L562.8,257.8 L563.3,257.9 L563.8,258.2 L564.3,258.4 L564.8,258.8 L565.3,259.2 L565.8,259.6 L566.3,260.1 L566.8,260.6 L567.3,261.0 L567.8,261.4 L568.3,261.8 L568.8,262.1 L569.3,262.4 L569.8,262.7 L570.3,262.9 L570.8,263.1 L571.3,263.3 L571.8,263.5 L572.3,263.7 L572.8,263.9 L573.3,264.1 L573.8,264.3 L574.3,264.5 L574.8,264.6 L575.3,264.7 L575.8,264.6 L576.3,264.5 L576.8,264.1 L577.3,263.5 L577.8,262.8 L578.3,261.9 L578.8,260.9 L579.3,259.9 L579.8,258.8 L580.3,257.6 L580.8,256.5 L581.3,255.4 L581.8,254.4 L582.3,253.4 L582.8,252.5 L583.3,251.6 L583.8,250.7 L584.3,249.9 L584.8,249.1 L585.3,248.3 L585.8,247.6 L586.3,247.0 L586.8,246.4 L587.3,245.8 L587.8,245.3 L588.3,244.9 L588.8,244.6 L589.3,244.3 L589.8,244.0 L590.3,243.8 L590.8,243.5 L591.3,243.3 L591.8,243.1 L592.3,242.9 L592.8,242.6 L593.3,242.4 L593.8,242.0 L594.3,241.7 L594.8,241.3 L595.3,240.8 L595.8,240.2 L596.3,239.6 L596.8,239.0 L597.3,238.3 L597.8,237.7 L598.3,237.0 L598.8,236.4 L599.3,235.8 L599.8,235.3 L600.3,234.8 L600.8,234.4 L601.3,234.0 L601.8,233.8 L602.3,233.7 L602.8,233.7 L603.3,233.8 L603.8,234.0 L604.3,234.2 L604.8,234.6 L605.3,235.0 L605.8,235.4 L606.3,235.9 L606.8,236.4 L607.3,236.9 L607.8,237.4 L608.3,238.0 L608.8,238.5 L609.3,239.0 L609.8,239.4 L610.3,239.9 L610.8,240.3 L611.3,240.7 L611.8,241.0 L612.3,241.4 L612.8,241.7 L613.3,242.1 L613.8,242.4 L614.3,242.7 L614.8,243.1 L615.3,243.4 L615.8,243.8 L616.3,244.2 L616.8,244.6 L617.3,245.1 L617.8,245.6 L618.3,246.1 L618.8,246.6 L619.3,247.2 L619.8,247.6 L620.3,248.1 L620.8,248.4 L621.3,248.6 L621.8,248.7 L622.3,248.7 L622.8,248.4 L623.3,247.9 L623.8,247.2 L624.3,246.2 L624.8,245.0 L625.3,243.7 L625.8,242.3 L626.3,240.8 L626.8,239.2 L627.3,237.6 L627.8,236.0 L628.3,234.3 L628.8,232.5 L629.3,230.7 L629.8,228.8 L630.3,226.9 L630.8,224.9 L631.3,222.9 L631.8,220.9 L632.3,218.9 L632.8,216.9 L633.3,214.8 L633.8,212.8 L634.3,210.6 L634.8,208.5 L635.3,206.4 L635.8,204.4 L636.3,202.4 L636.8,200.4 L637.3,198.6 L637.8,196.9 L638.3,195.3 L638.8,193.8 L639.3,192.5 L639.8,191.2 L640.3,190.0 L640.8,188.9 L641.3,188.0 L641.8,187.2 L642.3,186.5 L642.8,186.1 L643.3,185.8 L643.8,185.8 L644.3,185.9 L644.8,186.2 L645.3,186.6 L645.8,187.1 L646.3,187.7 L646.8,188.4 L647.3,189.1 L647.8,189.8 L648.3,190.6 L648.8,191.4 L649.3,192.1 L649.8,193.1 L650.3,194.2 L650.8,195.6 L651.3,197.3 L651.8,199.3 L652.3,201.8 L652.8,204.8 L653.3,208.3 L653.8,211.9 L654.3,214.9 L654.8,216.6 L655.3,216.3 L655.8,212.8 L656.3,206.5 L656.8,199.4 L657.3,192.5 L657.8,185.6 L658.3,178.8 L658.8,172.3 L659.3,166.0" stroke="#08c008" stroke-width="1.75"/>
</g>
<path d="M198.95,124.60000000000001V401.2M680.5,124.60000000000001V401.2" stroke="#000" stroke-width="2.9" fill="none"/>
<path d="M197.5,125.9H681.95M197.5,399.9H681.95" stroke="#000" stroke-width="2.6" fill="none"/>
<path d="M201.8,399.9v-7.5 M201.8,125.9v7.5 M217.6,399.9v-7.5 M217.6,125.9v7.5 M233.5,399.9v-7.5 M233.5,125.9v7.5 M249.4,399.9v-13.5 M249.4,125.9v13.5 M265.3,399.9v-7.5 M265.3,125.9v7.5 M281.2,399.9v-7.5 M281.2,125.9v7.5 M297.0,399.9v-7.5 M297.0,125.9v7.5 M312.9,399.9v-7.5 M312.9,125.9v7.5 M328.8,399.9v-13.5 M328.8,125.9v13.5 M344.7,399.9v-7.5 M344.7,125.9v7.5 M360.5,399.9v-7.5 M360.5,125.9v7.5 M376.4,399.9v-7.5 M376.4,125.9v7.5 M392.3,399.9v-7.5 M392.3,125.9v7.5 M408.2,399.9v-13.5 M408.2,125.9v13.5 M424.0,399.9v-7.5 M424.0,125.9v7.5 M439.9,399.9v-7.5 M439.9,125.9v7.5 M455.8,399.9v-7.5 M455.8,125.9v7.5 M471.7,399.9v-7.5 M471.7,125.9v7.5 M487.5,399.9v-13.5 M487.5,125.9v13.5 M503.4,399.9v-7.5 M503.4,125.9v7.5 M519.3,399.9v-7.5 M519.3,125.9v7.5 M535.2,399.9v-7.5 M535.2,125.9v7.5 M551.0,399.9v-7.5 M551.0,125.9v7.5 M566.9,399.9v-13.5 M566.9,125.9v13.5 M582.8,399.9v-7.5 M582.8,125.9v7.5 M598.7,399.9v-7.5 M598.7,125.9v7.5 M614.5,399.9v-7.5 M614.5,125.9v7.5 M630.4,399.9v-7.5 M630.4,125.9v7.5 M646.3,399.9v-13.5 M646.3,125.9v13.5 M662.2,399.9v-7.5 M662.2,125.9v7.5 M678.1,399.9v-7.5 M678.1,125.9v7.5 M198.95,397.2h7.0 M680.5,397.2h-7.0 M198.95,387.6h7.0 M680.5,387.6h-7.0 M198.95,378.0h13.0 M680.5,378.0h-13.0 M198.95,368.4h7.0 M680.5,368.4h-7.0 M198.95,358.8h7.0 M680.5,358.8h-7.0 M198.95,349.2h7.0 M680.5,349.2h-7.0 M198.95,339.6h7.0 M680.5,339.6h-7.0 M198.95,330.1h13.0 M680.5,330.1h-13.0 M198.95,320.5h7.0 M680.5,320.5h-7.0 M198.95,310.9h7.0 M680.5,310.9h-7.0 M198.95,301.3h7.0 M680.5,301.3h-7.0 M198.95,291.7h7.0 M680.5,291.7h-7.0 M198.95,282.1h13.0 M680.5,282.1h-13.0 M198.95,272.5h7.0 M680.5,272.5h-7.0 M198.95,262.9h7.0 M680.5,262.9h-7.0 M198.95,253.3h7.0 M680.5,253.3h-7.0 M198.95,243.7h7.0 M680.5,243.7h-7.0 M198.95,234.1h13.0 M680.5,234.1h-13.0 M198.95,224.6h7.0 M680.5,224.6h-7.0 M198.95,215.0h7.0 M680.5,215.0h-7.0 M198.95,205.4h7.0 M680.5,205.4h-7.0 M198.95,195.8h7.0 M680.5,195.8h-7.0 M198.95,186.2h13.0 M680.5,186.2h-13.0 M198.95,176.6h7.0 M680.5,176.6h-7.0 M198.95,167.0h7.0 M680.5,167.0h-7.0 M198.95,157.4h7.0 M680.5,157.4h-7.0 M198.95,147.8h7.0 M680.5,147.8h-7.0 M198.95,138.2h13.0 M680.5,138.2h-13.0 M198.95,128.7h7.0 M680.5,128.7h-7.0" stroke="#000" stroke-width="2.5" fill="none"/>
<g font-family="'Liberation Sans', Arial, sans-serif" fill="#0a0a0a" stroke="#0a0a0a" stroke-width="0.15">
<text x="230.8" y="430.3" font-size="23.6" textLength="37.2" lengthAdjust="spacingAndGlyphs" stroke-width="0.35">500</text>
<text x="310.2" y="430.3" font-size="23.6" textLength="37.2" lengthAdjust="spacingAndGlyphs" stroke-width="0.35">750</text>
<text x="383.4" y="430.3" font-size="23.6" textLength="49.6" lengthAdjust="spacingAndGlyphs" stroke-width="0.35">1000</text>
<text x="462.7" y="430.3" font-size="23.6" textLength="49.6" lengthAdjust="spacingAndGlyphs" stroke-width="0.35">1250</text>
<text x="542.1" y="430.3" font-size="23.6" textLength="49.6" lengthAdjust="spacingAndGlyphs" stroke-width="0.35">1500</text>
<text x="621.5" y="430.3" font-size="23.6" textLength="49.6" lengthAdjust="spacingAndGlyphs" stroke-width="0.35">1750</text>
<text x="146.4" y="386.5" font-size="23.6" textLength="44.8" lengthAdjust="spacingAndGlyphs" stroke-width="0.35">0.00</text>
<text x="146.4" y="338.6" font-size="23.6" textLength="44.8" lengthAdjust="spacingAndGlyphs" stroke-width="0.35">0.25</text>
<text x="146.4" y="290.6" font-size="23.6" textLength="44.8" lengthAdjust="spacingAndGlyphs" stroke-width="0.35">0.50</text>
<text x="146.4" y="242.6" font-size="23.6" textLength="44.8" lengthAdjust="spacingAndGlyphs" stroke-width="0.35">0.75</text>
<text x="147.6" y="194.8" font-size="23.2" textLength="44.0" lengthAdjust="spacingAndGlyphs" stroke-width="0.3">1.00</text>
<text x="142.0" y="147.8" font-size="25.2" textLength="50.2" lengthAdjust="spacingAndGlyphs" stroke-width="0.3">1.25</text>
<rect x="394.5" y="11.1" width="67.6" height="3.5" fill="#dc1418" stroke="none"/>
<rect x="394.5" y="54.0" width="67.6" height="3.5" fill="#000" stroke="none"/>
<rect x="394.5" y="97.25" width="67.6" height="3.5" fill="#1eb022" stroke="none"/>
<text x="480" y="22" font-size="29" textLength="19.5" lengthAdjust="spacingAndGlyphs" stroke-width="0.3">N</text>
<text x="484.3" y="63.8" font-size="29" textLength="15.5" lengthAdjust="spacingAndGlyphs" stroke-width="0.3">P</text>
<text x="484.3" y="105.7" font-size="29" textLength="36.8" lengthAdjust="spacingAndGlyphs" stroke-width="0.3">DA</text>
<text x="309.0" y="470.5" font-size="28.5" textLength="263" lengthAdjust="spacingAndGlyphs">Wavenumber (cm<tspan font-size="15.5" dy="-8.1">-1</tspan><tspan dy="8.1">)</tspan></text>
<text transform="translate(24.4,326.6) rotate(-90)" font-size="28.5" textLength="149" lengthAdjust="spacingAndGlyphs">Normalized</text>
<text transform="translate(63.8,346.8) rotate(-90)" font-size="28.5" textLength="189" lengthAdjust="spacingAndGlyphs">photon counts</text>
<text transform="translate(102.3,313.2) rotate(-90)" font-size="28.5" textLength="123" lengthAdjust="spacingAndGlyphs">(arb. un.)</text>
</g>
</svg>
</body></html>
